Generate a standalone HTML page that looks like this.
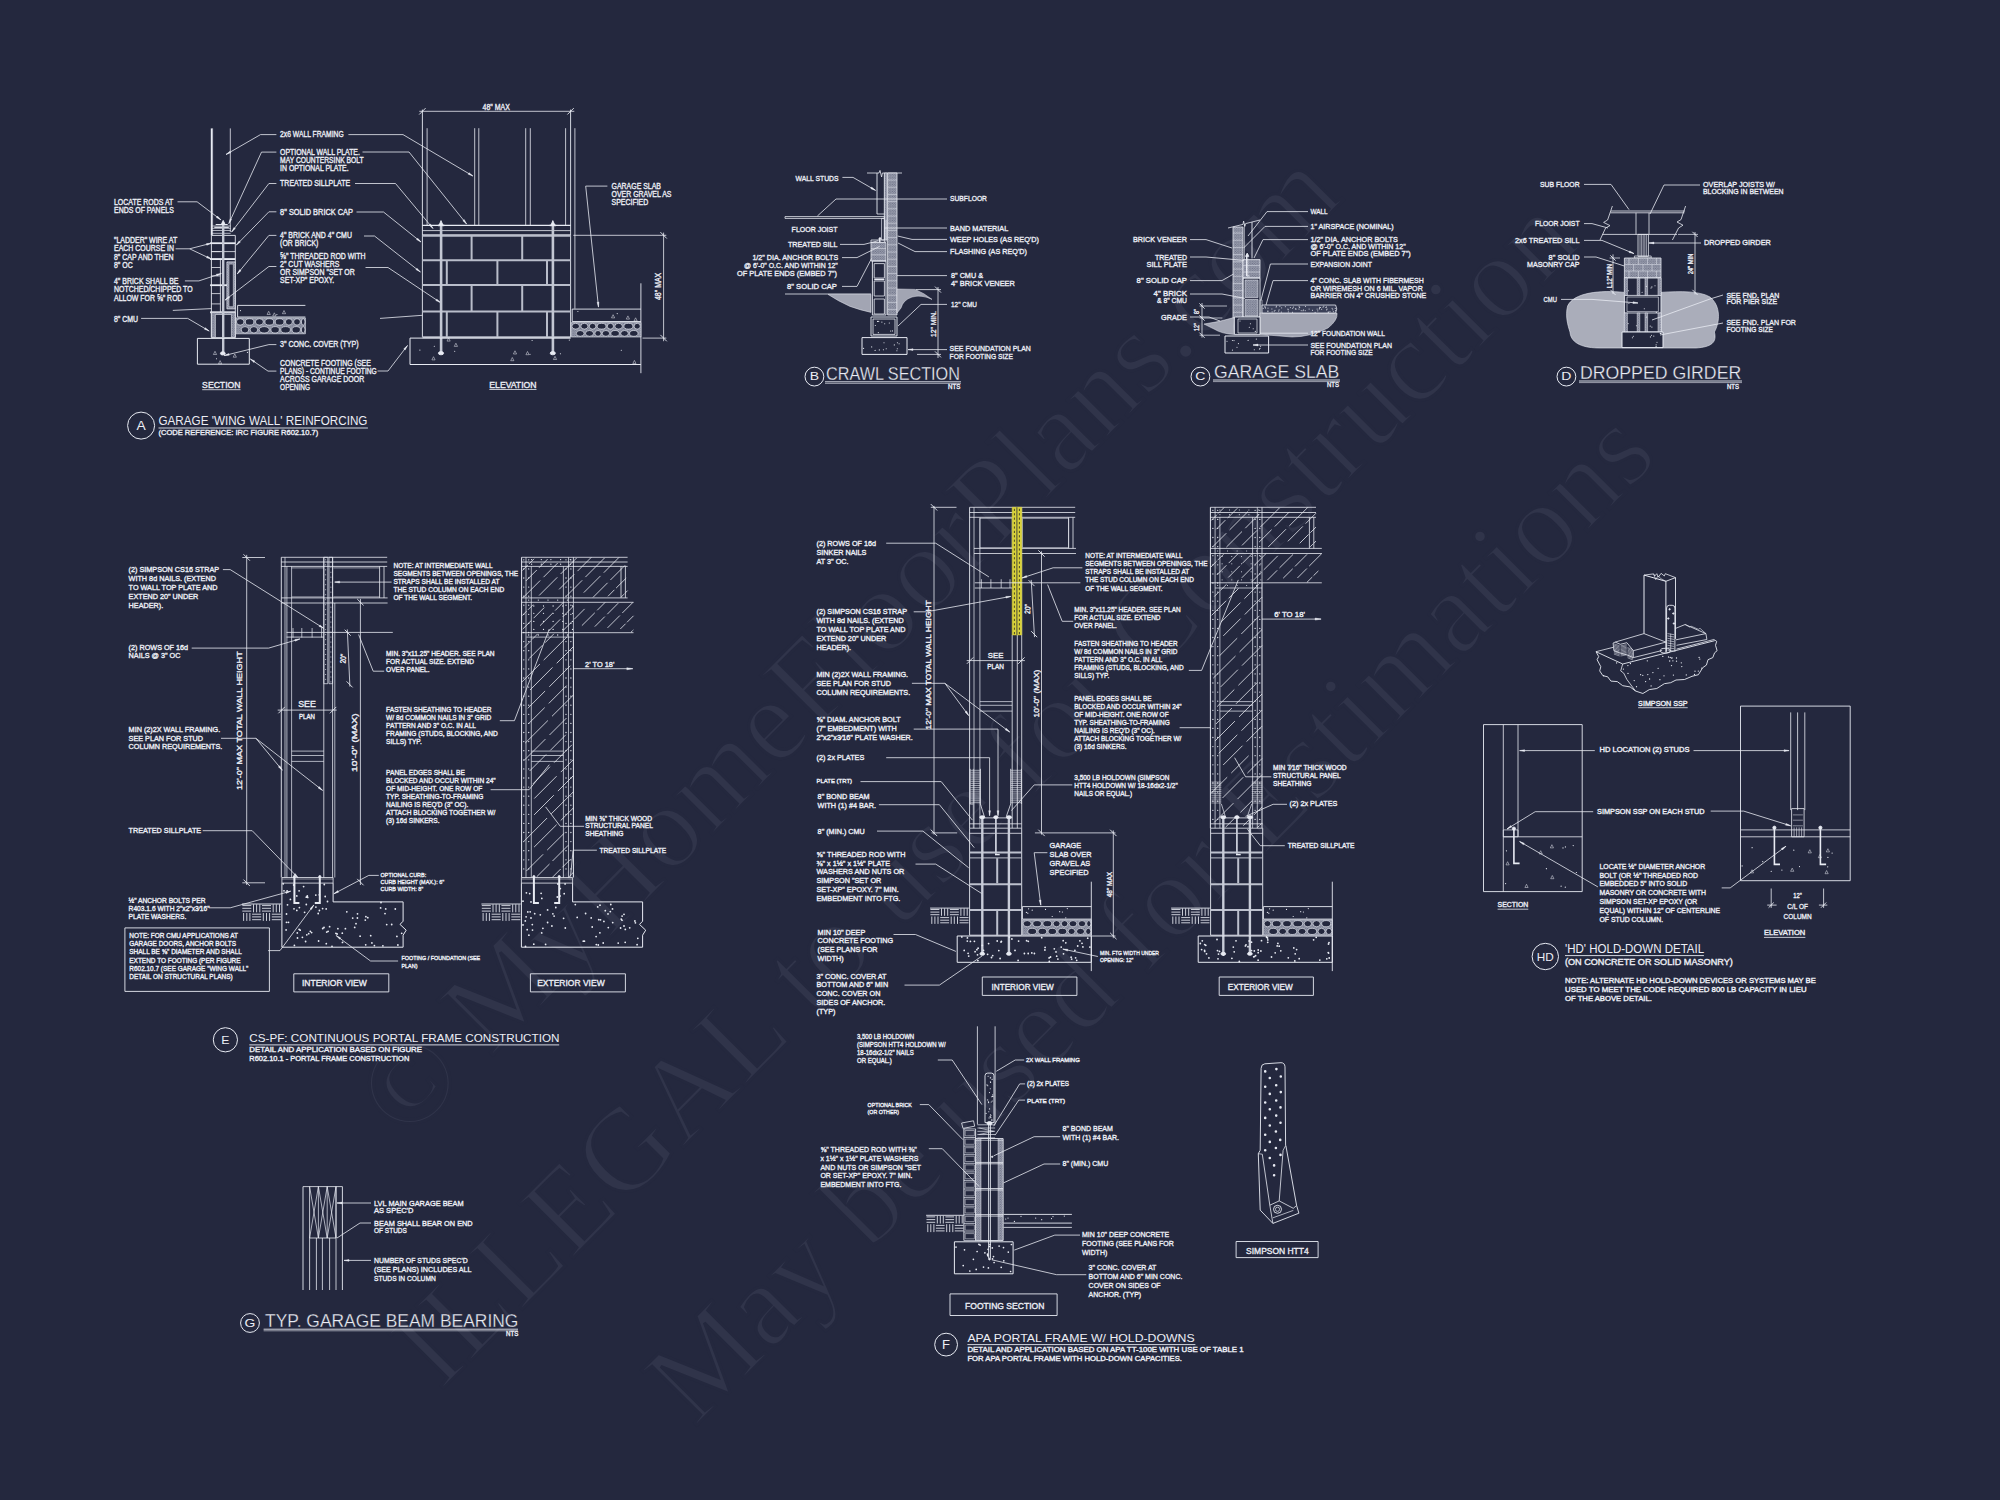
<!DOCTYPE html>
<html><head><meta charset="utf-8"><title>Structural Details</title>
<style>
html,body{margin:0;padding:0;background:#24283e;}
body{width:2000px;height:1500px;overflow:hidden;}
svg{display:block;font-family:"Liberation Sans",sans-serif;}
svg text{fill:#eceef5;stroke:#eceef5;stroke-width:0.35;}
svg text.big{stroke:#24283e;stroke-width:0.3px;}
svg text.mid{stroke:none;}
svg .wm text{font-family:"Liberation Serif",serif;fill:#30344a;stroke:#24283e;stroke-width:3px;}
</style></head><body>
<svg width="2000" height="1500" viewBox="0 0 2000 1500">
<rect width="2000" height="1500" style="fill:#24283e;stroke:none"/>
<defs>
<pattern id="stip" width="2.4" height="2.4" patternUnits="userSpaceOnUse"><rect width="2.4" height="2.4" fill="#9a9eae" stroke="none"/><circle cx="0.6" cy="0.6" r="0.5" fill="#555a72" stroke="none"/><circle cx="1.8" cy="1.8" r="0.5" fill="#555a72" stroke="none"/></pattern>
</defs>
<g fill="none" stroke="#e8ebf3" stroke-width="0.9">
<g id="wm">
<g class="wm">
<text transform="translate(405.5 1143) rotate(-45.15)" font-size="119.5">© MyHomeFloorPlans.com</text>
<text transform="translate(440.5 1391) rotate(-45.1)" font-size="118.8">ILLEGAL to use for Construction</text>
<text transform="translate(694.4 1427.5) rotate(-45.1)" font-size="119">May be used for Estimations</text>
</g>
</g>
<g id="detA">
<path d="M211.6 128.4 L211.6 235.4" stroke-width="1.6"/>
<path d="M212.6 128.4 L212.6 235.4" stroke-width="0.6"/>
<path d="M230.3 128.4 L230.3 232" stroke-width="0.8"/>
<path d="M212 226 L230.7 226" stroke-width="0.7"/>
<path d="M212 228.3 L230.7 228.3" stroke-width="0.7"/>
<path d="M212 230.5 L230.7 230.5" stroke-width="0.7"/>
<path d="M212 233.3 L230.7 233.3" stroke-width="0.7"/>
<path d="M214.3 227.3 L228.8 227.3" stroke-width="1.2"/>
<path d="M215.7 224.5 L227.7 224.5" stroke-width="1.0"/>
<path d="M211.4 235.4 L235.3 235.4 L235.3 259.1 L211.4 259.1Z"/>
<path d="M235.3 259.1 L235.3 337.5"/>
<path d="M211.4 259.1 L211.4 337.5"/>
<path d="M211.4 251.6 L220.4 251.6" stroke-width="0.8"/>
<path d="M211.4 267.5 L220.4 267.5" stroke-width="0.8"/>
<path d="M211.4 275.9 L220.4 275.9" stroke-width="0.8"/>
<path d="M211.4 293.6 L220.4 293.6" stroke-width="0.8"/>
<path d="M211.4 303.9 L220.4 303.9" stroke-width="0.8"/>
<path d="M211.4 251.6 L235.3 251.6" stroke-width="0.8"/>
<path d="M210.1 243.2 L235.3 243.2" stroke-width="1.8"/>
<path d="M210.1 259.1 L235.3 259.1" stroke-width="1.8"/>
<path d="M210.1 285.2 L235.3 285.2" stroke-width="1.8"/>
<path d="M210.1 312.3 L235.3 312.3" stroke-width="1.8"/>
<path d="M220.4 259.1 L220.4 312.3" stroke-width="0.8"/>
<path d="M226.9 261.9 L235.3 261.9 L235.3 308.9 L226.9 308.9Z" fill="url(#stip)" stroke-width="0.7"/>
<path d="M229 264.1 L233.3 264.1 L233.3 306.7 L229 306.7Z" fill="#24283e" stroke-width="0.5"/>
<path d="M211.4 312.3 L235.3 312.3 L235.3 337.5 L211.4 337.5Z" fill="url(#stip)" stroke-width="0.8"/>
<path d="M215.4 314.5 L231.4 314.5 L231.4 337.5 L215.4 337.5Z" fill="#24283e" stroke-width="0.6"/>
<path d="M223.2 222.3 L223.2 352.4" stroke-width="2.4" stroke="#c3c7d3"/>
<ellipse cx="222.8" cy="353.4" rx="2.4" ry="1.6" fill="#e8ebf3"/>
<path d="M221.3 224.5 L223.2 220.4 L225.1 224.5Z" fill="#e8ebf3"/>
<path d="M172.8 310.4 L211.4 308.6" stroke-width="0.8"/>
<path d="M305.4 305.4 L237.6 305.4 L237.6 317 L305.4 317"/>
<path d="M235.7 317.9 L305.4 317.9 L305.4 333.8 L235.7 333.8Z" fill="url(#stip)" stroke-width="0.6"/>
<ellipse cx="240.2" cy="321.9" rx="3.8" ry="3.2" fill="#24283e" stroke-width="0.7"/>
<ellipse cx="249.6" cy="321.9" rx="4.3" ry="3.2" fill="#24283e" stroke-width="0.7"/>
<ellipse cx="259.4" cy="321.9" rx="4" ry="3.2" fill="#24283e" stroke-width="0.7"/>
<ellipse cx="269.3" cy="321.9" rx="4.4" ry="3.2" fill="#24283e" stroke-width="0.7"/>
<ellipse cx="279.6" cy="321.9" rx="4.4" ry="3.2" fill="#24283e" stroke-width="0.7"/>
<ellipse cx="288.9" cy="321.9" rx="3.5" ry="3.2" fill="#24283e" stroke-width="0.7"/>
<ellipse cx="297" cy="321.9" rx="3.4" ry="3.2" fill="#24283e" stroke-width="0.7"/>
<ellipse cx="303.2" cy="321.9" rx="1.8" ry="3.2" fill="#24283e" stroke-width="0.7"/>
<ellipse cx="245" cy="329.8" rx="3.8" ry="3.2" fill="#24283e" stroke-width="0.7"/>
<ellipse cx="253.9" cy="329.8" rx="3.8" ry="3.2" fill="#24283e" stroke-width="0.7"/>
<ellipse cx="264.2" cy="329.8" rx="5.1" ry="3.2" fill="#24283e" stroke-width="0.7"/>
<ellipse cx="275.1" cy="329.8" rx="4.2" ry="3.2" fill="#24283e" stroke-width="0.7"/>
<ellipse cx="285.6" cy="329.8" rx="4.8" ry="3.2" fill="#24283e" stroke-width="0.7"/>
<ellipse cx="296.2" cy="329.8" rx="4.2" ry="3.2" fill="#24283e" stroke-width="0.7"/>
<ellipse cx="303.2" cy="329.8" rx="1.8" ry="3.2" fill="#24283e" stroke-width="0.7"/>
<path d="M268.7 311.3l1.6 3.2l-3.2 0z" stroke-width="0.5"/>
<path d="M274.3 312.8l1.6 3.2l-3.2 0z" stroke-width="0.5"/>
<path d="M284 310.5l1.6 3.2l-3.2 0z" stroke-width="0.5"/>
<path d="M276.9 314.6h.01M240.5 310.6h.01" stroke-width="1.1" stroke-linecap="round"/>
<path d="M197.4 338.4 L249.3 338.4 L249.3 364.2 L197.4 364.2Z" stroke-width="1.0"/>
<path d="M220.1 360.6l1.6 3.2l-3.2 0z" stroke-width="0.5"/>
<path d="M215 351.3l1.6 3.2l-3.2 0z" stroke-width="0.5"/>
<path d="M234.8 354l1.6 3.2l-3.2 0z" stroke-width="0.5"/>
<path d="M216.5 358.8h.01M247.4 352.4h.01" stroke-width="1.1" stroke-linecap="round"/>
<text transform="translate(221.3 387.9) scale(0.950 1)" font-size="9.1" text-anchor="middle">SECTION</text>
<path d="M202.2 389.7H240.5" stroke-width="0.8"/>
<text transform="translate(114 204.9) scale(0.830 1)" font-size="8.4">LOCATE RODS AT</text>
<text transform="translate(114 213.2) scale(0.830 1)" font-size="8.4">ENDS OF PANELS</text>
<path d="M177.5 201.8 L197.1 201.8 L221 219.9" stroke-width="0.8"/>
<path d="M221 219.9L217.5 216.1L216.4 217.6Z" fill="#e8ebf3" stroke-width="0.4"/>
<text transform="translate(114 243.2) scale(0.830 1)" font-size="8.4">"LADDER" WIRE AT</text>
<text transform="translate(114 251.3) scale(0.830 1)" font-size="8.4">EACH COURSE IN</text>
<text transform="translate(114 259.5) scale(0.830 1)" font-size="8.4">8" CAP AND THEN</text>
<text transform="translate(114 267.6) scale(0.830 1)" font-size="8.4">8" OC</text>
<path d="M175.6 248.8 L189.6 248.8" stroke-width="0.8"/>
<path d="M189.6 248.8 L211.4 243.2" stroke-width="0.8"/>
<path d="M211.4 243.2L206.4 243.6L206.8 245.3Z" fill="#e8ebf3" stroke-width="0.4"/>
<path d="M189.6 248.8 L211.4 259.1" stroke-width="0.8"/>
<path d="M211.4 259.1L207.3 256.1L206.5 257.8Z" fill="#e8ebf3" stroke-width="0.4"/>
<text transform="translate(114 283.9) scale(0.830 1)" font-size="8.4">4" BRICK SHALL BE</text>
<text transform="translate(114 292.2) scale(0.830 1)" font-size="8.4">NOTCHED/CHIPPED TO</text>
<text transform="translate(114 300.5) scale(0.830 1)" font-size="8.4">ALLOW FOR ⅝" ROD</text>
<path d="M184.9 280.9 L198.9 280.9 L221.3 273.5" stroke-width="0.8"/>
<path d="M221.3 273.5L216.3 274.2L216.9 275.9Z" fill="#e8ebf3" stroke-width="0.4"/>
<text transform="translate(114 321.6) scale(0.830 1)" font-size="8.4">8" CMU</text>
<path d="M141.1 318.4 L187.7 318.4 L209.2 331" stroke-width="0.8"/>
<path d="M209.2 331L205.3 327.7L204.4 329.2Z" fill="#e8ebf3" stroke-width="0.4"/>
<text transform="translate(280.1 137.2) scale(0.803 1)" font-size="8.4">2x6 WALL FRAMING</text>
<path d="M276.4 134.6 L260.5 134.6 L226 154.5" stroke-width="0.8"/>
<path d="M226 154.5L230.8 152.8L229.9 151.3Z" fill="#e8ebf3" stroke-width="0.4"/>
<text transform="translate(280.1 155.1) scale(0.820 1)" font-size="8.4">OPTIONAL WALL PLATE.</text>
<text transform="translate(280.1 163) scale(0.800 1)" font-size="8.4">MAY COUNTERSINK BOLT</text>
<text transform="translate(280.1 171) scale(0.822 1)" font-size="8.4">IN OPTIONAL PLATE.</text>
<path d="M276.4 152.1 L261.5 152.1 L228.8 223.6" stroke-width="0.8"/>
<path d="M228.8 223.6L231.7 219.4L230.1 218.7Z" fill="#e8ebf3" stroke-width="0.4"/>
<text transform="translate(280.1 186.3) scale(0.834 1)" font-size="8.4">TREATED SILLPLATE</text>
<path d="M276.4 183.5 L268.9 183.5 L231.6 232" stroke-width="0.8"/>
<path d="M231.6 232L235.4 228.6L233.9 227.5Z" fill="#e8ebf3" stroke-width="0.4"/>
<text transform="translate(280.1 214.8) scale(0.881 1)" font-size="8.4">8" SOLID BRICK CAP</text>
<path d="M276.4 211.8 L268.9 211.8 L236.3 245.1" stroke-width="0.8"/>
<path d="M236.3 245.1L240.4 242.1L239.1 240.9Z" fill="#e8ebf3" stroke-width="0.4"/>
<text transform="translate(280.1 238.2) scale(0.830 1)" font-size="8.4">4" BRICK AND 4" CMU</text>
<text transform="translate(280.1 246) scale(0.830 1)" font-size="8.4">(OR BRICK)</text>
<path d="M276.4 235.4 L268.9 235.4 L237.2 274" stroke-width="0.8"/>
<path d="M237.2 274L241.1 270.7L239.7 269.6Z" fill="#e8ebf3" stroke-width="0.4"/>
<text transform="translate(280.1 259.1) scale(0.830 1)" font-size="8.4">⅝" THREADED ROD WITH</text>
<text transform="translate(280.1 267) scale(0.830 1)" font-size="8.4">2" CUT WASHERS</text>
<text transform="translate(280.1 274.9) scale(0.830 1)" font-size="8.4">OR SIMPSON "SET OR</text>
<text transform="translate(280.1 282.9) scale(0.830 1)" font-size="8.4">SET-XP" EPOXY.</text>
<path d="M276.4 266.5 L268.9 266.5 L225.1 300.1" stroke-width="0.8"/>
<path d="M225.1 300.1L229.6 297.8L228.5 296.4Z" fill="#e8ebf3" stroke-width="0.4"/>
<text transform="translate(280.1 347.2) scale(0.840 1)" font-size="8.4">3" CONC. COVER (TYP)</text>
<path d="M276.4 344.6 L268.9 344.6 L224.1 355.6" stroke-width="0.8"/>
<path d="M224.1 355.6L229.2 355.3L228.8 353.5Z" fill="#e8ebf3" stroke-width="0.4"/>
<text transform="translate(280.1 366) scale(0.828 1)" font-size="8.4">CONCRETE FOOTING (SEE</text>
<text transform="translate(280.1 374.1) scale(0.791 1)" font-size="8.4">PLANS) - CONTINUE FOOTING</text>
<text transform="translate(280.1 382.1) scale(0.831 1)" font-size="8.4">ACROSS GARAGE DOOR</text>
<text transform="translate(280.1 390.1) scale(0.773 1)" font-size="8.4">OPENING</text>
<path d="M276.4 371.1 L268 371.1 L250.3 359" stroke-width="0.8"/>
<path d="M250.3 359L253.9 362.5L254.9 361Z" fill="#e8ebf3" stroke-width="0.4"/>
<path d="M348.4 134.6 L403 134.6 L472.9 176" stroke-width="0.8"/>
<path d="M472.9 176L469.1 172.7L468.1 174.2Z" fill="#e8ebf3" stroke-width="0.4"/>
<path d="M362.5 152 L409 152 L466.6 224" stroke-width="0.8"/>
<path d="M466.6 224L464.2 219.5L462.8 220.7Z" fill="#e8ebf3" stroke-width="0.4"/>
<path d="M355 183.5 L395.5 183.5 L433 228.5" stroke-width="0.8"/>
<path d="M433 228.5L430.5 224.1L429.1 225.2Z" fill="#e8ebf3" stroke-width="0.4"/>
<path d="M356.5 212 L383.5 212 L421 242" stroke-width="0.8"/>
<path d="M421 242L417.7 238.2L416.5 239.6Z" fill="#e8ebf3" stroke-width="0.4"/>
<path d="M364 236 L374.5 236 L420.4 272" stroke-width="0.8"/>
<path d="M420.4 272L417 268.2L415.9 269.6Z" fill="#e8ebf3" stroke-width="0.4"/>
<path d="M365.5 267.5 L388 267.5 L440.5 302.6" stroke-width="0.8"/>
<path d="M440.5 302.6L436.8 299.1L435.8 300.6Z" fill="#e8ebf3" stroke-width="0.4"/>
<path d="M377.5 371 L388 371 L407.5 345.5" stroke-width="0.8"/>
<path d="M407.5 345.5L403.7 348.9L405.2 350Z" fill="#e8ebf3" stroke-width="0.4"/>
<path d="M419.3 111.3 L574.3 111.3" stroke-width="0.8"/>
<path d="M419.2 114.5L425.6 108.1" stroke-width="0.9"/>
<path d="M567.4 114.5L573.8 108.1" stroke-width="0.9"/>
<text transform="translate(496.2 109.6) scale(0.830 1)" font-size="8.4" text-anchor="middle">48" MAX</text>
<path d="M422.4 109.6 L422.4 337"/>
<path d="M570.6 109.6 L570.6 337"/>
<path d="M427.1 128.2 L427.1 225.4" stroke-width="0.8"/>
<path d="M474.7 128.2 L474.7 225.4" stroke-width="0.8"/>
<path d="M478.8 128.2 L478.8 225.4" stroke-width="0.8"/>
<path d="M525.7 128.2 L525.7 225.4" stroke-width="0.8"/>
<path d="M530.3 128.2 L530.3 225.4" stroke-width="0.8"/>
<path d="M565.6 128.2 L565.6 225.4" stroke-width="0.8"/>
<path d="M574.9 128.2 L574.9 308.7" stroke-width="0.8"/>
<path d="M422.4 225.4 L570.6 225.4" stroke-width="1.3"/>
<path d="M422.4 230.6 L570.6 230.6" stroke-width="0.8"/>
<path d="M422.4 234.7 L570.6 234.7" stroke-width="0.8"/>
<path d="M422.4 235.9 L570.6 235.9" stroke-width="1.6" stroke="#b9bdca"/>
<path d="M422.4 260.3 L570.6 260.3" stroke-width="2.0" stroke="#b9bdca"/>
<path d="M422.4 285.1 L570.6 285.1" stroke-width="2.0" stroke="#b9bdca"/>
<path d="M422.4 311.4 L570.6 311.4" stroke-width="2.0" stroke="#b9bdca"/>
<path d="M422.4 337.2 L570.6 337.2" stroke-width="2.0" stroke="#b9bdca"/>
<path d="M471.6 235.9 L471.6 260.3" stroke-width="2.0" stroke="#b9bdca"/>
<path d="M522.2 235.9 L522.2 260.3" stroke-width="2.0" stroke="#b9bdca"/>
<path d="M446.8 260.3 L446.8 285.1" stroke-width="2.0" stroke="#b9bdca"/>
<path d="M497.4 260.3 L497.4 285.1" stroke-width="2.0" stroke="#b9bdca"/>
<path d="M547 260.3 L547 285.1" stroke-width="2.0" stroke="#b9bdca"/>
<path d="M471.6 285.1 L471.6 311.4" stroke-width="2.0" stroke="#b9bdca"/>
<path d="M522.2 285.1 L522.2 311.4" stroke-width="2.0" stroke="#b9bdca"/>
<path d="M446.8 311.4 L446.8 337.2" stroke-width="2.0" stroke="#b9bdca"/>
<path d="M497.4 311.4 L497.4 337.2" stroke-width="2.0" stroke="#b9bdca"/>
<path d="M547 311.4 L547 337.2" stroke-width="2.0" stroke="#b9bdca"/>
<path d="M441.1 223.3 L441.1 352.5" stroke-width="2.6" stroke="#c3c7d3"/>
<ellipse cx="441" cy="353.2" rx="2.6" ry="1.6" fill="#e8ebf3"/>
<path d="M439.1 225.4 L441 220.6 L443 225.4Z" fill="#e8ebf3"/>
<path d="M437.9 225.4 L444.3 225.4" stroke-width="1.6"/>
<path d="M552.9 223.3 L552.9 352.5" stroke-width="2.6" stroke="#c3c7d3"/>
<ellipse cx="552.8" cy="353.2" rx="2.6" ry="1.6" fill="#e8ebf3"/>
<path d="M551 225.4 L552.8 220.6 L554.9 225.4Z" fill="#e8ebf3"/>
<path d="M549.7 225.4 L556.1 225.4" stroke-width="1.6"/>
<path d="M570.6 338.1 L410 338.1 L410 364.5 L640.9 364.5" stroke-width="1.0"/>
<path d="M640.9 283.3 L640.9 373.2"/>
<path d="M515 350.8l1.6 3.2l-3.2 0z" stroke-width="0.5"/>
<path d="M527.5 351.5l1.6 3.2l-3.2 0z" stroke-width="0.5"/>
<path d="M555 356.3l1.6 3.2l-3.2 0z" stroke-width="0.5"/>
<path d="M433.5 356.7l1.6 3.2l-3.2 0z" stroke-width="0.5"/>
<path d="M634.4 360.4l1.6 3.2l-3.2 0z" stroke-width="0.5"/>
<path d="M448.6 337.9l1.6 3.2l-3.2 0z" stroke-width="0.5"/>
<path d="M455.9 343.2l1.6 3.2l-3.2 0z" stroke-width="0.5"/>
<path d="M512.3 357.5l1.6 3.2l-3.2 0z" stroke-width="0.5"/>
<path d="M621.3 350.2h.01M454.7 351.3h.01M434.3 346.3h.01M569.3 340.1h.01M560.4 353.7h.01M532.1 340.5h.01M419.9 350.1h.01M530 354.3h.01" stroke-width="1.1" stroke-linecap="round"/>
<path d="M640.9 309.1 L572.2 309.1 L572.2 321.5 L640.9 321.5"/>
<path d="M571.2 322.6 L640.9 322.6 L640.9 337 L571.2 337Z" fill="url(#stip)" stroke-width="0.6"/>
<ellipse cx="575.7" cy="326.2" rx="3.8" ry="2.9" fill="#24283e" stroke-width="0.7"/>
<ellipse cx="584.4" cy="326.2" rx="3.6" ry="2.9" fill="#24283e" stroke-width="0.7"/>
<ellipse cx="592.6" cy="326.2" rx="3.3" ry="2.9" fill="#24283e" stroke-width="0.7"/>
<ellipse cx="601.6" cy="326.2" rx="4.4" ry="2.9" fill="#24283e" stroke-width="0.7"/>
<ellipse cx="610.4" cy="326.2" rx="3.1" ry="2.9" fill="#24283e" stroke-width="0.7"/>
<ellipse cx="618.6" cy="326.2" rx="3.8" ry="2.9" fill="#24283e" stroke-width="0.7"/>
<ellipse cx="628.4" cy="326.2" rx="4.5" ry="2.9" fill="#24283e" stroke-width="0.7"/>
<ellipse cx="637.2" cy="326.2" rx="3.1" ry="2.9" fill="#24283e" stroke-width="0.7"/>
<ellipse cx="580.2" cy="333.4" rx="3.9" ry="2.9" fill="#24283e" stroke-width="0.7"/>
<ellipse cx="589.5" cy="333.4" rx="4" ry="2.9" fill="#24283e" stroke-width="0.7"/>
<ellipse cx="598" cy="333.4" rx="3.1" ry="2.9" fill="#24283e" stroke-width="0.7"/>
<ellipse cx="605.9" cy="333.4" rx="3.7" ry="2.9" fill="#24283e" stroke-width="0.7"/>
<ellipse cx="615.1" cy="333.4" rx="4.2" ry="2.9" fill="#24283e" stroke-width="0.7"/>
<ellipse cx="624.5" cy="333.4" rx="3.8" ry="2.9" fill="#24283e" stroke-width="0.7"/>
<ellipse cx="633.8" cy="333.4" rx="4.2" ry="2.9" fill="#24283e" stroke-width="0.7"/>
<path d="M635.6 317.8l1.6 3.2l-3.2 0z" stroke-width="0.5"/>
<path d="M627.9 315.9l1.6 3.2l-3.2 0z" stroke-width="0.5"/>
<path d="M613.1 314.7l1.6 3.2l-3.2 0z" stroke-width="0.5"/>
<path d="M577.9 311.5h.01M617.2 313.6h.01" stroke-width="1.1" stroke-linecap="round"/>
<path d="M663.6 232.6 L663.6 341.2" stroke-width="0.8"/>
<path d="M573.3 235.3 L666.3 235.3" stroke-width="0.8"/>
<path d="M642.5 338.1 L666.3 338.1" stroke-width="0.8"/>
<path d="M660.4 232.1L666.8 238.5" stroke-width="0.9"/>
<path d="M660.4 334.9L666.8 341.3" stroke-width="0.9"/>
<text transform="translate(661.1 286.4) rotate(-90) scale(0.830 1)" font-size="8.4" text-anchor="middle">48" MAX</text>
<text transform="translate(611.5 188.8) scale(0.830 1)" font-size="8.4">GARAGE SLAB</text>
<text transform="translate(611.5 196.9) scale(0.830 1)" font-size="8.4">OVER GRAVEL AS</text>
<text transform="translate(611.5 204.9) scale(0.830 1)" font-size="8.4">SPECIFIED</text>
<path d="M607.4 186.1 L585.7 186.1 L598.5 307.1" stroke-width="0.8"/>
<path d="M598.5 307.1L598.9 302L597.1 302.2Z" fill="#e8ebf3" stroke-width="0.4"/>
<text transform="translate(512.9 387.7) scale(0.950 1)" font-size="9.1" text-anchor="middle">ELEVATION</text>
<path d="M489.4 389.5H536.5" stroke-width="0.8"/>
<path d="M380 318.4 L422.4 315.3" stroke-width="0.8"/>
<circle cx="141.1" cy="425.6" r="13.5" stroke-width="1.0"/>
<text transform="translate(141.1 430.1) scale(1.100 1)" font-size="12.6" text-anchor="middle" class="mid">A</text>
<text transform="translate(158.5 425) scale(0.974 1)" font-size="12" class="mid">GARAGE 'WING WALL' REINFORCING</text>
<path d="M158.5 428 L367.9 428"/>
<text transform="translate(158.5 434.6) scale(0.967 1)" font-size="7.8">(CODE REFERENCE: IRC FIGURE R602.10.7)</text>
</g>
<g id="detB">
<path d="M867 173 L879 173 L880 170.4 L881.6 177 L882.4 173 L902 173" stroke-width="0.8"/>
<path d="M877 173 L877 214"/>
<path d="M884.4 173 L884.4 240"/>
<path d="M887.6 173 L897 173 L897 315 L887.6 315Z" fill="url(#stip)" stroke-width="0.8"/>
<path d="M887.6 180 L897 180" stroke-width="0.6" stroke="#d8dbe5"/>
<path d="M887.6 187.2 L897 187.2" stroke-width="0.6" stroke="#d8dbe5"/>
<path d="M887.6 194.4 L897 194.4" stroke-width="0.6" stroke="#d8dbe5"/>
<path d="M887.6 201.6 L897 201.6" stroke-width="0.6" stroke="#d8dbe5"/>
<path d="M887.6 208.8 L897 208.8" stroke-width="0.6" stroke="#d8dbe5"/>
<path d="M887.6 216 L897 216" stroke-width="0.6" stroke="#d8dbe5"/>
<path d="M887.6 223.2 L897 223.2" stroke-width="0.6" stroke="#d8dbe5"/>
<path d="M887.6 230.4 L897 230.4" stroke-width="0.6" stroke="#d8dbe5"/>
<path d="M887.6 237.6 L897 237.6" stroke-width="0.6" stroke="#d8dbe5"/>
<path d="M887.6 244.8 L897 244.8" stroke-width="0.6" stroke="#d8dbe5"/>
<path d="M887.6 252 L897 252" stroke-width="0.6" stroke="#d8dbe5"/>
<path d="M887.6 259.2 L897 259.2" stroke-width="0.6" stroke="#d8dbe5"/>
<path d="M887.6 266.4 L897 266.4" stroke-width="0.6" stroke="#d8dbe5"/>
<path d="M887.6 273.6 L897 273.6" stroke-width="0.6" stroke="#d8dbe5"/>
<path d="M887.6 280.8 L897 280.8" stroke-width="0.6" stroke="#d8dbe5"/>
<path d="M887.6 288 L897 288" stroke-width="0.6" stroke="#d8dbe5"/>
<path d="M887.6 295.2 L897 295.2" stroke-width="0.6" stroke="#d8dbe5"/>
<path d="M887.6 302.4 L897 302.4" stroke-width="0.6" stroke="#d8dbe5"/>
<path d="M887.6 309.6 L897 309.6" stroke-width="0.6" stroke="#d8dbe5"/>
<path d="M884.4 173 L887.2 173 L887.2 240 L884.4 240Z" fill="url(#stip)" stroke-width="0.6"/>
<path d="M785 216.6 L884.4 216.6 L884.4 218.4 L785 218.4Z" stroke-width="0.8"/>
<path d="M877 214 L884.4 214" stroke-width="0.8"/>
<path d="M881.6 218.4 L884.4 218.4 L884.4 240 L881.6 240Z" stroke-width="0.7"/>
<path d="M886 220 L886 242" stroke-width="0.7"/>
<path d="M871 240 L884.4 240 L884.4 242.4 L871 242.4Z" stroke-width="0.8"/>
<path d="M879.4 238 L879.4 258" stroke-width="1.2"/>
<path d="M880.6 238 L880.6 258" stroke-width="0.6"/>
<circle cx="880" cy="238.4" r="0.8" fill="#e8ebf3" stroke-width="0.8"/>
<path d="M871 242.4 L886 242.4 L886 261 L871 261Z" fill="url(#stip)" stroke-width="0.8"/>
<path d="M871 248.6 L886 248.6" stroke-width="0.5"/>
<path d="M871 254.8 L886 254.8" stroke-width="0.5"/>
<path d="M872.4 261 L886 261 L886 315 L872.4 315Z"/>
<path d="M874.2 263.6 L884.4 263.6 L884.4 278 L874.2 278Z" stroke-width="0.8"/>
<path d="M874.2 281 L884.4 281 L884.4 296 L874.2 296Z" stroke-width="0.8"/>
<path d="M874.2 299 L884.4 299 L884.4 314 L874.2 314Z" stroke-width="0.8"/>
<path d="M874.2 279.4 L884.4 279.4" stroke-width="1.4"/>
<path d="M871 317 L897 317 L897 336 L871 336Z"/>
<path d="M873 319 L895 319 L895 334.4 L873 334.4Z" stroke-width="0.8"/>
<path d="M878.7 321.4h.01M881.9 322.1h.01M875.3 325.5h.01M892.4 330.9h.01M889.3 323h.01M884.7 323.8h.01M877.5 321.4h.01M878.3 332.6h.01M890.6 331h.01" stroke-width="1.1" stroke-linecap="round"/>
<path d="M862 337.6 L907 337.6 L907 354.4 L862 354.4Z" stroke-width="1.0"/>
<path d="M896.9 350.7h.01M884 342.7h.01M863.6 348.4h.01M883.4 349.8h.01M879.3 349.9h.01M875.1 350.4h.01M894.3 344.9h.01M886.2 348.7h.01M871.7 346.9h.01M897.4 342.8h.01M897.3 348.7h.01M899.1 343.8h.01" stroke-width="1.1" stroke-linecap="round"/>
<path d="M785 294 L871 294" stroke-width="0.8"/>
<path d="M828 294.4L871 294.4L871 312.4Q860 310 850 306.4Q838 301 828 294.4Z" fill="#a2a5b3" stroke-width="0.5"/>
<path d="M897 289L915 289.4Q924 293 932 299.4Q922 294.4 912 297Q903 300 901 308L897 313Z" fill="#a2a5b3" stroke-width="0.5"/>
<path d="M938 287 L938 358" stroke-width="0.8"/>
<path d="M916 289.6 L941 289.6" stroke-width="0.8"/>
<path d="M917 354.4 L941 354.4" stroke-width="0.8"/>
<path d="M935 286.6L941 292.6" stroke-width="0.9"/>
<path d="M935 351.4L941 357.4" stroke-width="0.9"/>
<text transform="translate(936.4 324) rotate(-90) scale(0.830 1)" font-size="8.1" text-anchor="middle">12" MIN.</text>
<text transform="translate(795.6 180.6) scale(0.840 1)" font-size="8.1">WALL STUDS</text>
<path d="M842.4 177.4 L853 177.4 L875.6 190.4" stroke-width="0.8"/>
<path d="M875.6 190.4L871.7 187.1L870.8 188.7Z" fill="#e8ebf3" stroke-width="0.4"/>
<text transform="translate(791.6 231.6) scale(0.866 1)" font-size="8.1">FLOOR JOIST</text>
<text transform="translate(788 247.4) scale(0.884 1)" font-size="8.1">TREATED SILL</text>
<path d="M840 244.4 L864 244.4 L878 240.8" stroke-width="0.8"/>
<text transform="translate(752.4 260.4) scale(0.884 1)" font-size="8.1">1/2" DIA. ANCHOR BOLTS</text>
<text transform="translate(744 268) scale(0.858 1)" font-size="8.1">@ 6'-0" O.C. AND WITHIN 12"</text>
<text transform="translate(737 275.6) scale(0.914 1)" font-size="8.1">OF PLATE ENDS (EMBED 7")</text>
<path d="M842 257.6 L857 257.6 L879.6 246.4" stroke-width="0.8"/>
<text transform="translate(787 289) scale(0.946 1)" font-size="8.1">8" SOLID CAP</text>
<path d="M842 286.4 L857 286.4 L871.6 258.4" stroke-width="0.8"/>
<text transform="translate(950 201.4) scale(0.830 1)" font-size="8.1">SUBFLOOR</text>
<path d="M947 199 L836 199 L817.4 216" stroke-width="0.8"/>
<text transform="translate(950 230.6) scale(0.903 1)" font-size="8.1">BAND MATERIAL</text>
<path d="M947 228 L884.4 228" stroke-width="0.8"/>
<text transform="translate(950 241.6) scale(0.898 1)" font-size="8.1">WEEP HOLES (AS REQ'D)</text>
<path d="M947 239.4 L912 239.4 L897.6 236" stroke-width="0.8"/>
<text transform="translate(950 253.6) scale(0.894 1)" font-size="8.1">FLASHING (AS REQ'D)</text>
<path d="M947 251.6 L915 251.6 L898 243" stroke-width="0.8"/>
<text transform="translate(951 278) scale(0.896 1)" font-size="8.1">8" CMU &amp;</text>
<text transform="translate(951 286.4) scale(0.915 1)" font-size="8.1">4" BRICK VENEER</text>
<path d="M947 275.6 L897 275.6" stroke-width="0.8"/>
<text transform="translate(951 307) scale(0.798 1)" font-size="8.1">12" CMU</text>
<path d="M947 304.4 L921 304.4 L898 326" stroke-width="0.8"/>
<text transform="translate(949.6 350.6) scale(0.858 1)" font-size="8.1">SEE FOUNDATION PLAN</text>
<text transform="translate(949.6 359) scale(0.829 1)" font-size="8.1">FOR FOOTING SIZE</text>
<path d="M947 349.6 L908 349.6" stroke-width="0.8"/>
<path d="M908 349.6L913 350.5L913 348.7Z" fill="#e8ebf3" stroke-width="0.4"/>
<circle cx="814.4" cy="376.6" r="9.4" stroke-width="1.0"/>
<text transform="translate(814.4 380.2) scale(1.250 1)" font-size="11.2" text-anchor="middle" class="mid">B</text>
<text transform="translate(826 380) scale(0.854 1)" font-size="19" class="big">CRAWL SECTION</text>
<path d="M825 381.8 L961 381.8"/>
<path d="M825 383.4 L961 383.4" stroke-width="0.6"/>
<text transform="translate(948 389.4) scale(0.965 1)" font-size="6.4">NTS</text>
</g>
<g id="detC">
<path d="M1228 228 L1243 224.4 L1243.6 221 L1244.8 226.4 L1245.6 223.6 L1260 220" stroke-width="0.8"/>
<path d="M1233 227 L1243 227 L1243 318 L1233 318Z" fill="url(#stip)" stroke-width="0.8"/>
<path d="M1233 233 L1243 233" stroke-width="0.6" stroke="#d8dbe5"/>
<path d="M1233 240.2 L1243 240.2" stroke-width="0.6" stroke="#d8dbe5"/>
<path d="M1233 247.4 L1243 247.4" stroke-width="0.6" stroke="#d8dbe5"/>
<path d="M1233 254.6 L1243 254.6" stroke-width="0.6" stroke="#d8dbe5"/>
<path d="M1233 261.8 L1243 261.8" stroke-width="0.6" stroke="#d8dbe5"/>
<path d="M1233 269 L1243 269" stroke-width="0.6" stroke="#d8dbe5"/>
<path d="M1233 276.2 L1243 276.2" stroke-width="0.6" stroke="#d8dbe5"/>
<path d="M1233 283.4 L1243 283.4" stroke-width="0.6" stroke="#d8dbe5"/>
<path d="M1233 290.6 L1243 290.6" stroke-width="0.6" stroke="#d8dbe5"/>
<path d="M1233 297.8 L1243 297.8" stroke-width="0.6" stroke="#d8dbe5"/>
<path d="M1233 305 L1243 305" stroke-width="0.6" stroke="#d8dbe5"/>
<path d="M1233 312.2 L1243 312.2" stroke-width="0.6" stroke="#d8dbe5"/>
<path d="M1252 222 L1252 258.4"/>
<path d="M1244.4 224 L1244.4 259.6" stroke-width="0.6"/>
<path d="M1243 259.6 L1260 259.6 L1260 278 L1243 278Z" fill="url(#stip)" stroke-width="0.8"/>
<path d="M1243 265.6 L1260 265.6" stroke-width="0.6" stroke="#d8dbe5"/>
<path d="M1243 272 L1260 272" stroke-width="0.6" stroke="#d8dbe5"/>
<path d="M1246.6 254.4 L1246.6 276" stroke-width="1.3"/>
<path d="M1247.8 254.4 L1247.8 276" stroke-width="0.6"/>
<path d="M1246.6 276 L1249.6 276" stroke-width="1.0"/>
<path d="M1245.6 256.4 L1247.2 253 L1248.8 256.4Z" fill="#e8ebf3" stroke-width="0.8"/>
<path d="M1243 278 L1260 278 L1260 317 L1243 317Z"/>
<path d="M1245 280 L1258 280 L1258 297.6 L1245 297.6Z" fill="url(#stip)" stroke-width="0.6"/>
<path d="M1245 299.4 L1258 299.4 L1258 316 L1245 316Z" fill="url(#stip)" stroke-width="0.6"/>
<path d="M1260 300 L1262 300 L1262 317 L1260 317Z" stroke-width="0.6"/>
<path d="M1260 313L1337 313Q1338 320 1328 328Q1310 337 1292 337L1260 334.4Z" fill="#a2a5b3" stroke-width="0.5"/>
<path d="M1262 305L1335.6 305Q1338 309 1335.6 313L1262 313Z" fill="#3a3f57" stroke-width="0.8"/>
<path d="M1275 310.4h.01M1309.1 309.1h.01M1278.7 311.1h.01M1321.7 309.3h.01M1299.7 307.5h.01M1263.2 308.4h.01M1305.5 306.4h.01M1320.6 307.5h.01M1279.9 306.3h.01M1335.4 310.7h.01M1326.5 309.9h.01M1265.5 308.1h.01M1299.1 306.7h.01M1332.1 308.4h.01M1274.2 311.2h.01M1272.1 311.9h.01M1295.9 309.5h.01M1287.9 309.1h.01M1276.6 306.2h.01M1325.9 307.5h.01M1319.6 307.3h.01M1333.3 311.7h.01M1317.8 310.9h.01M1305.2 310.7h.01M1271.9 309h.01M1323 307.3h.01M1330 311.7h.01M1292.7 308.3h.01M1295.8 308.5h.01M1335.2 308.5h.01M1264.9 306.6h.01M1315.1 312.4h.01M1299 309.1h.01M1303 310.8h.01M1279.1 309.9h.01M1303.4 310h.01M1276.1 307.1h.01M1288.3 311.9h.01M1288.2 309.8h.01M1285.3 306.7h.01M1267.8 311.2h.01M1319.4 308.4h.01M1312.6 310.3h.01M1328.2 312.1h.01M1292.5 312.3h.01M1332.8 309.8h.01M1327.1 309.1h.01M1290.3 307.6h.01M1326.6 307h.01M1268 311.2h.01M1319.2 309.1h.01M1323.8 306.3h.01M1281.7 307.9h.01M1293.5 307.1h.01M1268 308.2h.01M1328.3 312.3h.01M1317.1 309.1h.01M1281.3 312.1h.01M1301.2 310.7h.01M1265.1 307.4h.01" stroke-width="1" stroke-linecap="round"/>
<path d="M1204 324Q1220 322 1233.6 317.6L1234.4 334.4Q1222 334 1214 329Z" fill="#a2a5b3" stroke-width="0.5"/>
<path d="M1234.4 317 L1260 317 L1260 334.4 L1234.4 334.4Z" fill="#24283e"/>
<path d="M1238 319 L1257 319 L1257 333 L1238 333Z" stroke-width="0.7"/>
<path d="M1255.3 331.4h.01M1240 321h.01M1253.2 328.8h.01M1250.4 323.7h.01M1249.3 327.3h.01" stroke-width="1.1" stroke-linecap="round"/>
<path d="M1225 336 L1268.6 336 L1268.6 353 L1225 353Z" stroke-width="1.0"/>
<path d="M1237 347.3h.01M1254.3 349.8h.01M1234 340.6h.01M1232.4 340.5h.01M1256.3 339.1h.01M1248.1 340.4h.01M1238.4 343.6h.01M1260.6 346.2h.01M1227 341.3h.01M1232.4 350.1h.01M1259.4 349.1h.01M1260.1 348.2h.01" stroke-width="1.1" stroke-linecap="round"/>
<path d="M1202 303 L1202 337.6" stroke-width="0.8"/>
<path d="M1199.6 306 L1227 306" stroke-width="0.7"/>
<path d="M1199.6 318 L1222.4 318" stroke-width="0.7"/>
<path d="M1199.6 335.2 L1220 335.2" stroke-width="0.7"/>
<path d="M1199.4 303.4L1204.6 308.6" stroke-width="0.9"/>
<path d="M1199.4 315.4L1204.6 320.6" stroke-width="0.9"/>
<path d="M1199.4 332.6L1204.6 337.8" stroke-width="0.9"/>
<text transform="translate(1199.4 311.6) rotate(-90) scale(0.830 1)" font-size="6.4" text-anchor="middle">8"</text>
<text transform="translate(1199.4 327) rotate(-90) scale(0.830 1)" font-size="6.4" text-anchor="middle">12"</text>
<text transform="translate(1133 242.4) scale(0.895 1)" font-size="8.1">BRICK VENEER</text>
<path d="M1190 239.6 L1206 239.6 L1232 248" stroke-width="0.8"/>
<text transform="translate(1155 259.6) scale(0.860 1)" font-size="8.1">TREATED</text>
<text transform="translate(1146.4 266.6) scale(0.930 1)" font-size="8.1">SILL PLATE</text>
<path d="M1190 257 L1206 257 L1244 260.4" stroke-width="0.8"/>
<text transform="translate(1136.6 283.4) scale(0.954 1)" font-size="8.1">8" SOLID CAP</text>
<path d="M1190 280.6 L1222 280.6 L1233.6 274" stroke-width="0.8"/>
<text transform="translate(1153.6 296) scale(0.971 1)" font-size="8.1">4" BRICK</text>
<text transform="translate(1157 303.4) scale(0.840 1)" font-size="8.1">&amp; 8" CMU</text>
<path d="M1190 294 L1222 294 L1245 298.4" stroke-width="0.8"/>
<text transform="translate(1161 320) scale(0.903 1)" font-size="8.1">GRADE</text>
<path d="M1190 317 L1209 317 L1220 321" stroke-width="0.8"/>
<text transform="translate(1310.4 214.4) scale(0.790 1)" font-size="8.1">WALL</text>
<path d="M1308 211.6 L1267 211.6 L1248 236" stroke-width="0.8"/>
<text transform="translate(1310.4 229) scale(0.888 1)" font-size="8.1">1" AIRSPACE (NOMINAL)</text>
<path d="M1308 226.4 L1265 226.4 L1243.6 248" stroke-width="0.8"/>
<text transform="translate(1310.4 242) scale(0.901 1)" font-size="8.1">1/2" DIA. ANCHOR BOLTS</text>
<text transform="translate(1310.4 249) scale(0.872 1)" font-size="8.1">@ 6'-0" O.C. AND WITHIN 12"</text>
<text transform="translate(1310.4 256) scale(0.920 1)" font-size="8.1">OF PLATE ENDS (EMBED 7")</text>
<path d="M1308 239.6 L1263 239.6 L1254 258" stroke-width="0.8"/>
<text transform="translate(1310.4 266.6) scale(0.852 1)" font-size="8.1">EXPANSION JOINT</text>
<path d="M1308 264 L1270.4 264 L1261 300" stroke-width="0.8"/>
<text transform="translate(1310.4 283.4) scale(0.866 1)" font-size="8.1">4" CONC. SLAB WITH FIBERMESH</text>
<text transform="translate(1310.4 290.6) scale(0.879 1)" font-size="8.1">OR WIREMESH ON 6 MIL. VAPOR</text>
<text transform="translate(1310.4 298) scale(0.876 1)" font-size="8.1">BARRIER ON 4" CRUSHED STONE</text>
<path d="M1308 280.6 L1273 280.6 L1266 305" stroke-width="0.8"/>
<text transform="translate(1310.4 336) scale(0.819 1)" font-size="8.1">12" FOUNDATION WALL</text>
<path d="M1308 333.2 L1260 333.2" stroke-width="0.8"/>
<text transform="translate(1310.4 348) scale(0.861 1)" font-size="8.1">SEE FOUNDATION PLAN</text>
<text transform="translate(1310.4 355) scale(0.818 1)" font-size="8.1">FOR FOOTING SIZE</text>
<path d="M1308 345 L1253 345" stroke-width="0.8"/>
<path d="M1253 345L1258 345.9L1258 344.1Z" fill="#e8ebf3" stroke-width="0.4"/>
<circle cx="1200.4" cy="376.6" r="9.4" stroke-width="1.0"/>
<text transform="translate(1200.4 380.2) scale(1.250 1)" font-size="11.2" text-anchor="middle" class="mid">C</text>
<text transform="translate(1214 378) scale(0.968 1)" font-size="18.2" class="big">GARAGE SLAB</text>
<path d="M1213 380 L1340 380"/>
<path d="M1213 381.6 L1340 381.6" stroke-width="0.6"/>
<text transform="translate(1327 387.4) scale(0.934 1)" font-size="6.4">NTS</text>
</g>
<g id="detD">
<path d="M1624.4 292.4C1600 290 1574 292.4 1567.6 306C1565 316 1568 326 1570 332C1571 344 1584 348 1600 348L1696 348C1712 347 1717 342 1714.4 332C1720 322 1721 306 1710 297C1700 291 1680 291 1661 292.4Z" fill="#aaadba" stroke-width="0.6"/>
<path d="M1611 211 L1685 211" stroke-width="0.8"/>
<path d="M1610.4 212.8 L1684.4 212.8" stroke-width="0.8"/>
<path d="M1602.4 234.4 L1677 234.4" stroke-width="0.8"/>
<path d="M1612.4 206 L1607.6 220 L1603.6 222.4 L1610 225.6 L1605.6 228 L1600 240" stroke-width="0.8"/>
<path d="M1685.6 206 L1681 219.6 L1677 222 L1683 225.2 L1678.6 228 L1672.4 240" stroke-width="0.8"/>
<path d="M1636 212.8 L1636 234.4" stroke-width="0.8"/>
<path d="M1649 212.8 L1649 234.4" stroke-width="0.8"/>
<path d="M1638 234.4 L1648.4 234.4 L1648.4 256.4 L1638 256.4Z" stroke-width="0.8"/>
<path d="M1640 234.4 L1640 256.4" stroke-width="0.6"/>
<path d="M1641.6 234.4 L1641.6 256.4" stroke-width="0.6"/>
<path d="M1643.2 234.4 L1643.2 256.4" stroke-width="0.6"/>
<path d="M1644.8 234.4 L1644.8 256.4" stroke-width="0.6"/>
<path d="M1646.4 234.4 L1646.4 256.4" stroke-width="0.6"/>
<path d="M1634.4 256 L1651.2 256 L1651.2 258 L1634.4 258Z" stroke-width="0.7"/>
<path d="M1624.4 258 L1661 258 L1661 278 L1624.4 278Z" fill="url(#stip)" stroke-width="0.8"/>
<path d="M1624.4 264.4 L1661 264.4" stroke-width="0.6" stroke="#d8dbe5"/>
<path d="M1624.4 271 L1661 271" stroke-width="0.6" stroke="#d8dbe5"/>
<path d="M1633.6 264.4 L1633.6 271" stroke-width="0.6" stroke="#d8dbe5"/>
<path d="M1643 264.4 L1643 271" stroke-width="0.6" stroke="#d8dbe5"/>
<path d="M1652 264.4 L1652 271" stroke-width="0.6" stroke="#d8dbe5"/>
<path d="M1629 258 L1629 264.4" stroke-width="0.6" stroke="#d8dbe5"/>
<path d="M1629 271 L1629 278" stroke-width="0.6" stroke="#d8dbe5"/>
<path d="M1638.4 258 L1638.4 264.4" stroke-width="0.6" stroke="#d8dbe5"/>
<path d="M1638.4 271 L1638.4 278" stroke-width="0.6" stroke="#d8dbe5"/>
<path d="M1647.6 258 L1647.6 264.4" stroke-width="0.6" stroke="#d8dbe5"/>
<path d="M1647.6 271 L1647.6 278" stroke-width="0.6" stroke="#d8dbe5"/>
<path d="M1656.4 258 L1656.4 264.4" stroke-width="0.6" stroke="#d8dbe5"/>
<path d="M1656.4 271 L1656.4 278" stroke-width="0.6" stroke="#d8dbe5"/>
<path d="M1624.4 278 L1661 278 L1661 332 L1624.4 332Z" fill="#24283e"/>
<path d="M1624.4 295.4 L1661 295.4" stroke-width="0.8"/>
<path d="M1624.4 313 L1661 313" stroke-width="0.8"/>
<path d="M1624.4 278 L1627.4 278 L1627.4 295.4 L1624.4 295.4Z" fill="url(#stip)" stroke-width="0.5"/>
<path d="M1637.2 278 L1639.8 278 L1639.8 295.4 L1637.2 295.4Z" fill="url(#stip)" stroke-width="0.5"/>
<path d="M1645 278 L1647.6 278 L1647.6 295.4 L1645 295.4Z" fill="url(#stip)" stroke-width="0.5"/>
<path d="M1658 278 L1661 278 L1661 295.4 L1658 295.4Z" fill="url(#stip)" stroke-width="0.5"/>
<path d="M1624.4 313 L1627.4 313 L1627.4 332 L1624.4 332Z" fill="url(#stip)" stroke-width="0.5"/>
<path d="M1637.2 313 L1639.8 313 L1639.8 332 L1637.2 332Z" fill="url(#stip)" stroke-width="0.5"/>
<path d="M1645 313 L1647.6 313 L1647.6 332 L1645 332Z" fill="url(#stip)" stroke-width="0.5"/>
<path d="M1658 313 L1661 313 L1661 332 L1658 332Z" fill="url(#stip)" stroke-width="0.5"/>
<path d="M1627 297 L1658.4 297 L1658.4 311.6 L1627 311.6Z" stroke-width="0.6"/>
<path d="M1646.7 317.1h.01M1651.9 327.1h.01M1650.2 326.1h.01M1628.9 303.3h.01M1656.3 312.4h.01M1655 285.7h.01M1642.1 292.3h.01M1644.3 308.7h.01M1628.4 290.8h.01M1636.4 325.8h.01M1651 288h.01M1651.9 286.9h.01M1646.5 286.3h.01M1628.1 323.6h.01" stroke-width="1.1" stroke-linecap="round"/>
<path d="M1622 332 L1663 332 L1663 347.6 L1622 347.6Z" fill="#24283e" stroke-width="1.0"/>
<path d="M1660.3 333.4h.01M1651.5 335.3h.01M1661.1 333.4h.01M1657 342.2h.01M1656.1 346.4h.01M1632.4 337.7h.01M1650.4 336.9h.01M1633.3 336.2h.01M1656.1 344.7h.01M1653.8 336.1h.01" stroke-width="1.1" stroke-linecap="round"/>
<path d="M1613 254.4 L1613 294" stroke-width="0.8"/>
<path d="M1610.4 255.4L1615.6 260.6" stroke-width="0.9"/>
<path d="M1610.4 289.8L1615.6 295" stroke-width="0.9"/>
<path d="M1609.6 258 L1620 258" stroke-width="0.7"/>
<text transform="translate(1611.6 276) rotate(-90) scale(0.830 1)" font-size="7" text-anchor="middle">L12" MIN</text>
<path d="M1695 232 L1695 294.4" stroke-width="0.8"/>
<path d="M1692.4 231.8L1697.6 237" stroke-width="0.9"/>
<path d="M1692.4 289.8L1697.6 295" stroke-width="0.9"/>
<path d="M1678 234.4 L1698 234.4" stroke-width="0.7"/>
<text transform="translate(1692.8 264) rotate(-90) scale(0.830 1)" font-size="7" text-anchor="middle">24" MIN</text>
<text transform="translate(1540 187) scale(0.846 1)" font-size="8.1">SUB FLOOR</text>
<path d="M1584 184.4 L1611 184.4 L1629 209.6" stroke-width="0.8"/>
<text transform="translate(1535 226) scale(0.840 1)" font-size="8.1">FLOOR JOIST</text>
<path d="M1584 223.6 L1592 223.6 L1608 228" stroke-width="0.8"/>
<text transform="translate(1515 243) scale(0.906 1)" font-size="8.1">2x6 TREATED SILL</text>
<path d="M1584 240.4 L1602 240.4 L1634 253.6" stroke-width="0.8"/>
<path d="M1634 253.6L1629.7 250.9L1629 252.5Z" fill="#e8ebf3" stroke-width="0.4"/>
<text transform="translate(1548.6 260) scale(0.913 1)" font-size="8.1">8" SOLID</text>
<text transform="translate(1527 267) scale(0.883 1)" font-size="8.1">MASONRY CAP</text>
<path d="M1584 257 L1596 257 L1624.4 266" stroke-width="0.8"/>
<text transform="translate(1543.6 302) scale(0.726 1)" font-size="8.1">CMU</text>
<path d="M1561 299.4 L1592 299.4 L1638 303" stroke-width="0.8"/>
<path d="M1638 303L1633.1 301.7L1632.9 303.5Z" fill="#e8ebf3" stroke-width="0.4"/>
<text transform="translate(1703 187) scale(0.890 1)" font-size="8.1">OVERLAP JOISTS W/</text>
<text transform="translate(1703 194.4) scale(0.853 1)" font-size="8.1">BLOCKING IN BETWEEN</text>
<path d="M1700 185 L1664 185 L1650 214" stroke-width="0.8"/>
<text transform="translate(1704 245) scale(0.908 1)" font-size="8.1">DROPPED GIRDER</text>
<path d="M1701 243 L1649 243" stroke-width="0.8"/>
<path d="M1649 243L1654 243.9L1654 242.1Z" fill="#e8ebf3" stroke-width="0.4"/>
<text transform="translate(1726.4 297.6) scale(0.872 1)" font-size="8.1">SEE FND. PLAN</text>
<text transform="translate(1726.4 304.4) scale(0.872 1)" font-size="8.1">FOR PIER SIZE</text>
<path d="M1723 295 L1710 299 L1652 320" stroke-width="0.8"/>
<text transform="translate(1726.4 325) scale(0.869 1)" font-size="8.1">SEE FND. PLAN FOR</text>
<text transform="translate(1726.4 332) scale(0.815 1)" font-size="8.1">FOOTING SIZE</text>
<path d="M1723 323 L1660 335" stroke-width="0.8"/>
<circle cx="1566.4" cy="376.6" r="9.4" stroke-width="1.0"/>
<text transform="translate(1566.4 380.2) scale(1.250 1)" font-size="11.2" text-anchor="middle" class="mid">D</text>
<text transform="translate(1580 379) scale(0.937 1)" font-size="18.9" class="big">DROPPED GIRDER</text>
<path d="M1579 381 L1742 381"/>
<path d="M1579 382.6 L1742 382.6" stroke-width="0.6"/>
<text transform="translate(1727 389.4) scale(0.934 1)" font-size="6.4">NTS</text>
</g>
<g id="detE">
<path d="M281.3 557.3 L281.3 877.5"/>
<path d="M285 557.3 L285 877.5" stroke-width="0.7"/>
<path d="M286.9 566.4 L286.9 877.5" stroke-width="0.7"/>
<path d="M291.6 566.4 L291.6 877.5" stroke-width="0.7"/>
<path d="M323.8 557.3 L323.8 877.5" stroke-width="0.8"/>
<path d="M332.6 557.3 L332.6 877.5" stroke-width="0.8"/>
<path d="M334.8 603 L334.8 877.5" stroke-width="0.7"/>
<path d="M281.3 557.3 L387.2 557.3" stroke-width="0.8"/>
<path d="M281.3 562 L387.2 562" stroke-width="0.8"/>
<path d="M281.3 566.4 L387.2 566.4" stroke-width="0.8"/>
<path d="M281.3 597.9 L387.6 597.9" stroke-width="0.8"/>
<path d="M281.3 603 L387.6 603" stroke-width="0.8"/>
<path d="M291.6 567.9 L323.8 567.9" stroke-width="0.6"/>
<path d="M291.6 596.9 L323.8 596.9" stroke-width="0.6"/>
<path d="M379.6 566.4 L379.6 597.9" stroke-width="0.8"/>
<path d="M384 566.4 L384 597.9" stroke-width="0.8"/>
<path d="M333.4 567.9 L379.6 567.9" stroke-width="0.6"/>
<path d="M333.4 596.9 L379.6 596.9" stroke-width="0.6"/>
<path d="M323.8 557.3 L327.8 557.3 L327.8 683.7 L323.8 683.7Z" stroke-width="0.7"/>
<path d="M329 557.3 L332.6 557.3 L332.6 683.7 L329 683.7Z" stroke-width="0.7"/>
<path d="M325.7 559.8h.01M325.7 564.8h.01M325.7 569.8h.01M325.7 574.8h.01M325.7 579.7h.01M325.7 584.7h.01M325.7 589.7h.01M325.7 594.7h.01M325.7 599.7h.01M325.7 604.7h.01M325.7 609.6h.01M325.7 614.6h.01M325.7 619.6h.01M325.7 624.6h.01M325.7 629.6h.01M325.7 634.6h.01M325.7 639.6h.01M325.7 644.5h.01M325.7 649.5h.01M325.7 654.5h.01M325.7 659.5h.01M325.7 664.5h.01M325.7 669.5h.01M325.7 674.5h.01M325.7 679.4h.01" stroke-width="0.9" stroke-linecap="round"/>
<path d="M330.9 562.3h.01M330.9 567.3h.01M330.9 572.3h.01M330.9 577.2h.01M330.9 582.2h.01M330.9 587.2h.01M330.9 592.2h.01M330.9 597.2h.01M330.9 602.2h.01M330.9 607.2h.01M330.9 612.1h.01M330.9 617.1h.01M330.9 622.1h.01M330.9 627.1h.01M330.9 632.1h.01M330.9 637.1h.01M330.9 642.1h.01M330.9 647h.01M330.9 652h.01M330.9 657h.01M330.9 662h.01M330.9 667h.01M330.9 672h.01M330.9 677h.01M330.9 681.9h.01" stroke-width="0.9" stroke-linecap="round"/>
<path d="M286.5 632.4 L392.8 632.4" stroke-width="0.8"/>
<path d="M286.5 637.1 L323.8 637.1" stroke-width="0.8"/>
<path d="M293 628 L293 637.5" stroke-width="0.7"/>
<path d="M301.8 628 L301.8 637.5" stroke-width="0.7"/>
<path d="M312.1 628 L312.1 637.5" stroke-width="0.7"/>
<path d="M321.6 628 L321.6 637.5" stroke-width="0.7"/>
<path d="M291.6 751.1 L323.8 751.1" stroke-width="0.7"/>
<path d="M291.6 755.5 L323.8 755.5" stroke-width="0.7"/>
<path d="M291.6 761.4 L323.8 761.4" stroke-width="0.7"/>
<path d="M347.3 629.4 L349.9 686.6" stroke-width="0.8"/>
<path d="M344.7 629.7L350.7 635.7" stroke-width="0.9"/>
<path d="M346.6 681.4L352.6 687.4" stroke-width="0.9"/>
<text transform="translate(345.8 658.8) rotate(-87) scale(0.830 1)" font-size="7.8" text-anchor="middle">20"</text>
<path d="M277.7 710.1 L336.7 710.1" stroke-width="0.8"/>
<path d="M278.4 713.3L284.8 706.9" stroke-width="0.9"/>
<path d="M329.9 713.3L336.3 706.9" stroke-width="0.9"/>
<text transform="translate(307 707.2) scale(1.000 1)" font-size="8.8" text-anchor="middle">SEE</text>
<text transform="translate(307 718.6) scale(0.950 1)" font-size="6.4" text-anchor="middle">PLAN</text>
<path d="M246.7 554.9 L246.7 885" stroke-width="0.8"/>
<path d="M242.3 557.5 L265 557.5" stroke-width="0.8"/>
<path d="M242.3 882.8 L265 882.8" stroke-width="0.8"/>
<path d="M243.5 554.3L249.9 560.7" stroke-width="0.9"/>
<path d="M243.5 879.6L249.9 886" stroke-width="0.9"/>
<text transform="translate(242.3 720.7) rotate(-90) scale(1.120 1)" font-size="8.1" text-anchor="middle">12'-0" MAX TOTAL WALL HEIGHT</text>
<path d="M360.4 598.9 L360.4 885" stroke-width="0.8"/>
<path d="M357.2 599L363.6 605.4" stroke-width="0.9"/>
<path d="M357.2 878.9L363.6 885.3" stroke-width="0.9"/>
<text transform="translate(356.7 742.7) rotate(-90) scale(1.281 1)" font-size="8.1" text-anchor="middle">10'-0" (MAX)</text>
<path d="M281.9 877.5 L333.1 877.5 L333.1 883.1 L281.9 883.1Z" stroke-width="0.8"/>
<path d="M281.9 879 L333.1 879" stroke-width="0.5"/>
<path d="M281.9 883.1 L281.9 947.2 L403.1 947.2 L403.1 935.2 L406.2 930.2 L400 924.4 L403.1 921.2 L403.1 901.9 L333.1 901.9 L333.1 883.1" stroke-width="1.0"/>
<path d="M294.4 876.5 L294.4 903.1 L299.4 903.1" stroke-width="2.0"/>
<circle cx="294.4" cy="876.6" r="1.1" fill="#e8ebf3" stroke-width="0.8"/>
<path d="M319.8 876.5 L319.8 903.1 L314.8 903.1" stroke-width="2.0"/>
<circle cx="319.8" cy="876.6" r="1.1" fill="#e8ebf3" stroke-width="0.8"/>
<path d="M284 890.8h.01M329.6 926.7h.01M299.1 890.8h.01M310.3 931.3h.01M300.2 930.2h.01M346.8 911.8h.01M332 946.3h.01M293.7 885h.01M395.3 909h.01M306.3 904.5h.01M326.3 943.7h.01M307.7 897.4h.01M352.7 918.1h.01M396.9 936.4h.01M325.2 896.5h.01M382.9 945.8h.01M286.1 929.9h.01M386.7 924.6h.01M308.7 933.7h.01M287.5 904.8h.01M322.6 908.6h.01M360.1 936.2h.01M397.9 945h.01M401.7 933.3h.01M319.3 894.8h.01M357.4 918h.01M305.6 941.5h.01M354.7 927.4h.01M294 908.8h.01M391.7 924.5h.01M337.1 934h.01M335.9 933.3h.01M294.4 945.4h.01M296.8 895.9h.01M322.7 928.5h.01M385 913.6h.01M342.3 933.2h.01M315.9 907.1h.01M356 923.7h.01M287.1 890.8h.01M299.1 929.3h.01M365.7 944.8h.01M374.4 945.6h.01M324.3 884.5h.01M327.5 901.5h.01M303.6 886.6h.01M297.5 938h.01M288.5 922.3h.01M307.3 895.9h.01M381 902.5h.01M304.6 912.3h.01M365.9 916.7h.01M385.7 908.9h.01M345.4 928.7h.01M337.9 928.7h.01M297.3 932.9h.01M371.9 942.9h.01M365.3 920.1h.01M302.4 937.3h.01M296.8 910.4h.01M299.4 907.6h.01M319.4 910.5h.01M367.8 917.7h.01M311.6 932.6h.01M370.7 935.7h.01M286.5 922.3h.01M306.8 934.8h.01M326.2 908.9h.01M380.6 907.9h.01M306.3 897.2h.01M324 927.5h.01M326.7 932.1h.01M290.4 899.4h.01M357.5 913.8h.01M342.5 942.4h.01M315.8 895.1h.01M286.5 914h.01M318.2 913.5h.01M283.2 883.8h.01M328.1 931.3h.01M318.6 941h.01" stroke-width="1.8" stroke-linecap="round"/>
<path d="M241.9 904 L281.2 904"/>
<path d="M242.3 905.6 L251.3 905.6" stroke-width="0.85"/>
<path d="M242.3 908.3 L251.3 908.3" stroke-width="0.85"/>
<path d="M242.3 911.1 L251.3 911.1" stroke-width="0.85"/>
<path d="M253.5 904.3 L253.5 912.3" stroke-width="0.85"/>
<path d="M256.6 904.3 L256.6 912.3" stroke-width="0.85"/>
<path d="M259.8 904.3 L259.8 912.3" stroke-width="0.85"/>
<path d="M262 905.6 L271 905.6" stroke-width="0.85"/>
<path d="M262 908.3 L271 908.3" stroke-width="0.85"/>
<path d="M262 911.1 L271 911.1" stroke-width="0.85"/>
<path d="M273.2 904.3 L273.2 912.3" stroke-width="0.85"/>
<path d="M276.3 904.3 L276.3 912.3" stroke-width="0.85"/>
<path d="M279.5 904.3 L279.5 912.3" stroke-width="0.85"/>
<path d="M243.6 913 L243.6 920.9" stroke-width="0.85"/>
<path d="M246.8 913 L246.8 920.9" stroke-width="0.85"/>
<path d="M249.9 913 L249.9 920.9" stroke-width="0.85"/>
<path d="M252.1 914.2 L261.2 914.2" stroke-width="0.85"/>
<path d="M252.1 916.9 L261.2 916.9" stroke-width="0.85"/>
<path d="M252.1 919.7 L261.2 919.7" stroke-width="0.85"/>
<path d="M263.3 913 L263.3 920.9" stroke-width="0.85"/>
<path d="M266.5 913 L266.5 920.9" stroke-width="0.85"/>
<path d="M269.6 913 L269.6 920.9" stroke-width="0.85"/>
<path d="M271.8 914.2 L280.9 914.2" stroke-width="0.85"/>
<path d="M271.8 916.9 L280.9 916.9" stroke-width="0.85"/>
<path d="M271.8 919.7 L280.9 919.7" stroke-width="0.85"/>
<path d="M293.8 973.8 L388.8 973.8 L388.8 991.9 L293.8 991.9Z"/>
<text transform="translate(301.9 986.2) scale(0.971 1)" font-size="8.8">INTERIOR VIEW</text>
<path d="M124.9 927.9 L269.4 927.9 L269.4 991.4 L124.9 991.4Z"/>
<text transform="translate(129.3 937.8) scale(0.950 1)" font-size="6.8">NOTE: FOR CMU APPLICATIONS AT</text>
<text transform="translate(129.3 946) scale(0.950 1)" font-size="6.8">GARAGE DOORS, ANCHOR BOLTS</text>
<text transform="translate(129.3 954.3) scale(0.950 1)" font-size="6.8">SHALL BE ⅝" DIAMETER AND SHALL</text>
<text transform="translate(129.3 962.5) scale(0.950 1)" font-size="6.8">EXTEND TO FOOTING (PER  FIGURE</text>
<text transform="translate(129.3 970.7) scale(0.950 1)" font-size="6.8">R602.10.7 (SEE GARAGE "WING WALL"</text>
<text transform="translate(129.3 978.9) scale(0.950 1)" font-size="6.8">DETAIL ON STRUCTURAL PLANS)</text>
<path d="M268.1 950.6 L280 950.6 L313.8 905" stroke-width="0.8"/>
<path d="M313.8 905L310.1 908.5L311.5 909.6Z" fill="#e8ebf3" stroke-width="0.4"/>
<text transform="translate(128.6 572.2) scale(0.980 1)" font-size="7.4">(2) SIMPSON CS16 STRAP</text>
<text transform="translate(128.6 581.2) scale(0.980 1)" font-size="7.4">WITH 8d NAILS. (EXTEND</text>
<text transform="translate(128.6 590.3) scale(0.980 1)" font-size="7.4">TO WALL TOP PLATE AND</text>
<text transform="translate(128.6 599.4) scale(0.980 1)" font-size="7.4">EXTEND 20" UNDER</text>
<text transform="translate(128.6 608.4) scale(0.980 1)" font-size="7.4">HEADER).</text>
<path d="M222.9 569.6 L230.2 569.6 L323.7 628.3" stroke-width="0.8"/>
<path d="M323.7 628.3L320 624.9L319 626.4Z" fill="#e8ebf3" stroke-width="0.4"/>
<text transform="translate(128.6 649.6) scale(0.980 1)" font-size="7.4">(2) ROWS OF 16d</text>
<text transform="translate(128.6 658.4) scale(0.980 1)" font-size="7.4">NAILS @ 3" OC</text>
<path d="M191.7 648.1 L268.7 648.1 L299.9 638.9" stroke-width="0.8"/>
<path d="M299.9 638.9L294.8 639.5L295.3 641.2Z" fill="#e8ebf3" stroke-width="0.4"/>
<text transform="translate(128.6 731.7) scale(0.980 1)" font-size="7.4">MIN (2)2X WALL FRAMING.</text>
<text transform="translate(128.6 740.5) scale(0.980 1)" font-size="7.4">SEE PLAN FOR STUD</text>
<text transform="translate(128.6 749.3) scale(0.980 1)" font-size="7.4">COLUMN REQUIREMENTS.</text>
<path d="M221 738.3 L255.9 738.3" stroke-width="0.8"/>
<path d="M255.9 738.3 L282.3 770.2" stroke-width="0.8"/>
<path d="M282.3 770.2L279.8 765.8L278.4 766.9Z" fill="#e8ebf3" stroke-width="0.4"/>
<path d="M255.9 738.3 L322.6 790.4" stroke-width="0.8"/>
<path d="M322.6 790.4L319.2 786.6L318.1 788Z" fill="#e8ebf3" stroke-width="0.4"/>
<text transform="translate(128.6 832.9) scale(0.980 1)" font-size="7.4">TREATED SILLPLATE</text>
<path d="M202.7 830.7 L252.2 830.7 L298 877.7" stroke-width="0.8"/>
<path d="M298 877.7L295.2 873.5L293.9 874.7Z" fill="#e8ebf3" stroke-width="0.4"/>
<text transform="translate(128.6 903) scale(0.980 1)" font-size="6.8">½" ANCHOR BOLTS PER</text>
<text transform="translate(128.6 910.9) scale(0.980 1)" font-size="6.8">R403.1.6 WITH 2"x2"x3⁄16"</text>
<text transform="translate(128.6 918.8) scale(0.980 1)" font-size="6.8">PLATE WASHERS.</text>
<path d="M208.9 907.8 L230.2 907.8 L290.7 891.2" stroke-width="0.8"/>
<path d="M290.7 891.2L285.6 891.7L286.1 893.4Z" fill="#e8ebf3" stroke-width="0.4"/>
<text transform="translate(393.4 567.8) scale(0.970 1)" font-size="6.8">NOTE: AT INTERMEDIATE WALL</text>
<text transform="translate(393.4 575.8) scale(0.970 1)" font-size="6.8">SEGMENTS BETWEEN OPENINGS, THE</text>
<text transform="translate(393.4 583.9) scale(0.970 1)" font-size="6.8">STRAPS SHALL BE INSTALLED AT</text>
<text transform="translate(393.4 592) scale(0.970 1)" font-size="6.8">THE STUD COLUMN ON EACH END</text>
<text transform="translate(393.4 600) scale(0.970 1)" font-size="6.8">OF THE WALL SEGMENT.</text>
<path d="M391.6 582.1 L334.7 582.1" stroke-width="0.8"/>
<path d="M334.7 582.1L339.7 583L339.7 581.2Z" fill="#e8ebf3" stroke-width="0.4"/>
<text transform="translate(386.1 655.8) scale(0.970 1)" font-size="6.8">MIN. 3"x11.25" HEADER. SEE PLAN</text>
<text transform="translate(386.1 664) scale(0.970 1)" font-size="6.8">FOR ACTUAL SIZE. EXTEND</text>
<text transform="translate(386.1 672.3) scale(0.970 1)" font-size="6.8">OVER PANEL.</text>
<path d="M384.2 671.2 L373.2 671.2 L358.6 634.5" stroke-width="0.8"/>
<text transform="translate(386.1 711.5) scale(0.970 1)" font-size="6.8">FASTEN SHEATHING TO HEADER</text>
<text transform="translate(386.1 719.6) scale(0.970 1)" font-size="6.8">W/ 8d COMMON NAILS IN 3" GRID</text>
<text transform="translate(386.1 727.7) scale(0.970 1)" font-size="6.8">PATTERN AND 3" O.C. IN ALL</text>
<text transform="translate(386.1 735.7) scale(0.970 1)" font-size="6.8">FRAMING (STUDS, BLOCKING, AND</text>
<text transform="translate(386.1 743.8) scale(0.970 1)" font-size="6.8">SILLS) TYP.</text>
<path d="M499.8 720.7 L514.4 720.7 L549.3 629" stroke-width="0.8"/>
<text transform="translate(386.1 775) scale(0.970 1)" font-size="6.8">PANEL EDGES SHALL BE</text>
<text transform="translate(386.1 783.1) scale(0.970 1)" font-size="6.8">BLOCKED AND OCCUR WITHIN 24"</text>
<text transform="translate(386.1 791.1) scale(0.970 1)" font-size="6.8">OF MID-HEIGHT.  ONE ROW OF</text>
<text transform="translate(386.1 799.2) scale(0.970 1)" font-size="6.8">TYP. SHEATHING-TO-FRAMING</text>
<text transform="translate(386.1 807.3) scale(0.970 1)" font-size="6.8">NAILING IS REQ'D (3" OC).</text>
<text transform="translate(386.1 815.3) scale(0.970 1)" font-size="6.8">ATTACH BLOCKING TOGETHER W/</text>
<text transform="translate(386.1 823.4) scale(0.970 1)" font-size="6.8">(3) 16d SINKERS.</text>
<path d="M490.6 789.7 L529.1 789.7 L549.3 764.7" stroke-width="0.8"/>
<text transform="translate(380.6 876.6) scale(0.920 1)" font-size="5.9">OPTIONAL CURB:</text>
<text transform="translate(380.6 883.9) scale(0.920 1)" font-size="5.9">CURB HEIGHT (MAX.): 6"</text>
<text transform="translate(380.6 891.2) scale(0.920 1)" font-size="5.9">CURB WIDTH: 8"</text>
<path d="M378.8 875.4 L368.8 875.4 L333.8 893.8" stroke-width="0.8"/>
<path d="M333.8 893.8L338.6 892.2L337.8 890.6Z" fill="#e8ebf3" stroke-width="0.4"/>
<text transform="translate(401.5 959.8) scale(0.920 1)" font-size="5.9">FOOTING / FOUNDATION (SEE</text>
<text transform="translate(401.5 967.5) scale(0.920 1)" font-size="5.9">PLAN)</text>
<path d="M398.1 961 L370.6 961 L336.2 935.6" stroke-width="0.8"/>
<path d="M336.2 935.6L339.7 939.3L340.8 937.9Z" fill="#e8ebf3" stroke-width="0.4"/>
<path d="M521.6 557.3 L521.6 877.5" stroke-width="1.0"/>
<path d="M526 557.3 L526 877.5" stroke-width="0.7"/>
<path d="M531.3 566.4 L531.3 877.5" stroke-width="0.7"/>
<path d="M563.4 566.4 L563.4 877.5" stroke-width="0.7"/>
<path d="M568.5 557.3 L568.5 877.5" stroke-width="0.7"/>
<path d="M573.4 557.3 L573.4 602.3" stroke-width="0.8"/>
<path d="M573.4 632.7 L573.4 877.5" stroke-width="1.0"/>
<path d="M521.6 557.3 L627.6 557.3" stroke-width="0.8"/>
<path d="M521.6 562 L627.6 562" stroke-width="0.8"/>
<path d="M521.6 566.4 L627.6 566.4" stroke-width="0.8"/>
<path d="M521.6 597.9 L627.6 597.9" stroke-width="0.8"/>
<path d="M521.6 602.3 L633.5 602.3" stroke-width="0.8"/>
<path d="M521.6 632.7 L633.5 632.7" stroke-width="0.8"/>
<path d="M526.5 637.1 L573.4 637.1" stroke-width="0.7"/>
<path d="M621 566.4 L621 597.9" stroke-width="0.8"/>
<path d="M625.4 566.4 L625.4 597.9" stroke-width="0.8"/>
<path d="M573.4 602.3 L573.4 632.7" stroke-width="0.7"/>
<path d="M531.3 751.1 L563.4 751.1" stroke-width="0.7"/>
<path d="M531.3 755.5 L563.4 755.5" stroke-width="0.7"/>
<path d="M531.3 761.4 L563.4 761.4" stroke-width="0.7"/>
<path d="M523.8 559.8h.01M523.8 568.9h.01M523.8 578h.01M523.8 587.1h.01M523.8 596.2h.01M523.8 605.2h.01M523.8 614.3h.01M523.8 623.4h.01M523.8 632.5h.01M523.8 641.6h.01M523.8 650.7h.01M523.8 659.8h.01M523.8 668.9h.01M523.8 678h.01M523.8 687.1h.01M523.8 696.2h.01M523.8 705.2h.01M523.8 714.3h.01M523.8 723.4h.01M523.8 732.5h.01M523.8 741.6h.01M523.8 750.7h.01M523.8 759.8h.01M523.8 768.9h.01M523.8 778h.01M523.8 787.1h.01M523.8 796.2h.01M523.8 805.2h.01M523.8 814.3h.01M523.8 823.4h.01M523.8 832.5h.01M523.8 841.6h.01M523.8 850.7h.01M523.8 859.8h.01M523.8 868.9h.01" stroke-width="1.3" stroke-linecap="round"/>
<path d="M528.7 559.8h.01M528.7 568.9h.01M528.7 578h.01M528.7 587.1h.01M528.7 596.2h.01M528.7 605.2h.01M528.7 614.3h.01M528.7 623.4h.01M528.7 632.5h.01M528.7 641.6h.01M528.7 650.7h.01M528.7 659.8h.01M528.7 668.9h.01M528.7 678h.01M528.7 687.1h.01M528.7 696.2h.01M528.7 705.2h.01M528.7 714.3h.01M528.7 723.4h.01M528.7 732.5h.01M528.7 741.6h.01M528.7 750.7h.01M528.7 759.8h.01M528.7 768.9h.01M528.7 778h.01M528.7 787.1h.01M528.7 796.2h.01M528.7 805.2h.01M528.7 814.3h.01M528.7 823.4h.01M528.7 832.5h.01M528.7 841.6h.01M528.7 850.7h.01M528.7 859.8h.01M528.7 868.9h.01" stroke-width="1.3" stroke-linecap="round"/>
<path d="M566 559.8h.01M566 568.9h.01M566 578h.01M566 587.1h.01M566 596.2h.01M566 605.2h.01M566 614.3h.01M566 623.4h.01M566 632.5h.01M566 641.6h.01M566 650.7h.01M566 659.8h.01M566 668.9h.01M566 678h.01M566 687.1h.01M566 696.2h.01M566 705.2h.01M566 714.3h.01M566 723.4h.01M566 732.5h.01M566 741.6h.01M566 750.7h.01M566 759.8h.01M566 768.9h.01M566 778h.01M566 787.1h.01M566 796.2h.01M566 805.2h.01M566 814.3h.01M566 823.4h.01M566 832.5h.01M566 841.6h.01M566 850.7h.01M566 859.8h.01M566 868.9h.01" stroke-width="1.3" stroke-linecap="round"/>
<path d="M570.9 559.8h.01M570.9 568.9h.01M570.9 578h.01M570.9 587.1h.01M570.9 596.2h.01M570.9 605.2h.01M570.9 614.3h.01M570.9 623.4h.01M570.9 632.5h.01M570.9 641.6h.01M570.9 650.7h.01M570.9 659.8h.01M570.9 668.9h.01M570.9 678h.01M570.9 687.1h.01M570.9 696.2h.01M570.9 705.2h.01M570.9 714.3h.01M570.9 723.4h.01M570.9 732.5h.01M570.9 741.6h.01M570.9 750.7h.01M570.9 759.8h.01M570.9 768.9h.01M570.9 778h.01M570.9 787.1h.01M570.9 796.2h.01M570.9 805.2h.01M570.9 814.3h.01M570.9 823.4h.01M570.9 832.5h.01M570.9 841.6h.01M570.9 850.7h.01M570.9 859.8h.01M570.9 868.9h.01" stroke-width="1.3" stroke-linecap="round"/>
<path d="M531.6 559.6h.01M541.3 559.6h.01M550.9 559.6h.01M560.6 559.6h.01M570.3 559.6h.01" stroke-width="1.3" stroke-linecap="round"/>
<path d="M531.6 564.2h.01M541.3 564.2h.01M550.9 564.2h.01M560.6 564.2h.01M570.3 564.2h.01" stroke-width="1.3" stroke-linecap="round"/>
<path d="M528.7 600.1h.01M538.3 600.1h.01M548 600.1h.01M557.7 600.1h.01M567.4 600.1h.01" stroke-width="1.3" stroke-linecap="round"/>
<path d="M528.7 635h.01M538.3 635h.01M548 635h.01M557.7 635h.01M567.4 635h.01" stroke-width="1.3" stroke-linecap="round"/>
<path d="M533.8 606h.01M543.5 606h.01M553.1 606h.01M562.8 606h.01M572.5 606h.01" stroke-width="1.3" stroke-linecap="round"/>
<path d="M533.8 613.3h.01M543.5 613.3h.01M553.1 613.3h.01M562.8 613.3h.01M572.5 613.3h.01" stroke-width="1.3" stroke-linecap="round"/>
<path d="M533.8 621.4h.01M543.5 621.4h.01M553.1 621.4h.01M562.8 621.4h.01M572.5 621.4h.01" stroke-width="1.3" stroke-linecap="round"/>
<path d="M533.8 629.4h.01M543.5 629.4h.01M553.1 629.4h.01M562.8 629.4h.01M572.5 629.4h.01" stroke-width="1.3" stroke-linecap="round"/>
<path d="M522.4 570.4 L527.8 565.1" stroke-width="0.8"/>
<path d="M528.9 564 L534.1 558.8" stroke-width="0.8"/>
<path d="M525.8 581 L536.8 570" stroke-width="0.8"/>
<path d="M539 567.8 L547.7 559" stroke-width="0.8"/>
<path d="M522.9 597.8 L540.2 580.5" stroke-width="0.8"/>
<path d="M543.5 577.2 L557.7 563" stroke-width="0.8"/>
<path d="M539.1 595.5 L557.3 577.3" stroke-width="0.8"/>
<path d="M560.6 574 L576.6 558" stroke-width="0.8"/>
<path d="M559.1 589.4 L574.2 574.3" stroke-width="0.8"/>
<path d="M577.5 571.1 L591.3 557.3" stroke-width="0.8"/>
<path d="M566.1 596.4 L582.2 580.3" stroke-width="0.8"/>
<path d="M585.4 577.1 L604.6 557.9" stroke-width="0.8"/>
<path d="M583.8 592.6 L600.5 575.9" stroke-width="0.8"/>
<path d="M603.8 572.7 L619.1 557.3" stroke-width="0.8"/>
<path d="M593 597.4 L607.6 582.8" stroke-width="0.8"/>
<path d="M610.4 580 L625.1 565.3" stroke-width="0.8"/>
<path d="M608 596.3 L614.4 589.8" stroke-width="0.8"/>
<path d="M616.1 588.1 L626.2 578.1" stroke-width="0.8"/>
<path d="M621.2 597.1 L624.1 594.1" stroke-width="0.8"/>
<path d="M624.7 593.5 L627.6 590.6" stroke-width="0.8"/>
<path d="M522.4 615.4 L526.8 611" stroke-width="0.8"/>
<path d="M527.9 609.9 L533.2 604.6" stroke-width="0.8"/>
<path d="M522.7 629.1 L531.3 620.5" stroke-width="0.8"/>
<path d="M533.6 618.2 L544.2 607.6" stroke-width="0.8"/>
<path d="M540 625.7 L552.8 613" stroke-width="0.8"/>
<path d="M555.2 610.5 L563.4 602.3" stroke-width="0.8"/>
<path d="M548.7 631 L560.2 619.4" stroke-width="0.8"/>
<path d="M562.6 617 L573.4 606.2" stroke-width="0.8"/>
<path d="M562.2 631.4 L571.8 621.8" stroke-width="0.8"/>
<path d="M574.2 619.3 L584.6 608.9" stroke-width="0.8"/>
<path d="M581.9 625.6 L594.8 612.8" stroke-width="0.8"/>
<path d="M597.2 610.3 L605.2 602.3" stroke-width="0.8"/>
<path d="M594.8 626.6 L604.8 616.6" stroke-width="0.8"/>
<path d="M607.3 614.2 L618.2 603.2" stroke-width="0.8"/>
<path d="M607.5 627.9 L619.9 615.5" stroke-width="0.8"/>
<path d="M622.3 613 L633 602.3" stroke-width="0.8"/>
<path d="M620.3 629 L625.6 623.7" stroke-width="0.8"/>
<path d="M627 622.3 L633.5 615.8" stroke-width="0.8"/>
<path d="M631 632.2 L632.2 631.1" stroke-width="0.8"/>
<path d="M632.4 630.8 L633.4 629.9" stroke-width="0.8"/>
<path d="M524.1 647.5 L530.8 640.8" stroke-width="0.8"/>
<path d="M532 639.5 L537.7 633.8" stroke-width="0.8"/>
<path d="M529.2 658.5 L542.5 645.2" stroke-width="0.8"/>
<path d="M545.1 642.7 L553.9 633.8" stroke-width="0.8"/>
<path d="M522 681.9 L539.9 664" stroke-width="0.8"/>
<path d="M543.7 660.1 L567.4 636.5" stroke-width="0.8"/>
<path d="M530 690 L552.5 667.4" stroke-width="0.8"/>
<path d="M556.7 663.3 L573.4 646.6" stroke-width="0.8"/>
<path d="M527.7 708.4 L545.1 691" stroke-width="0.8"/>
<path d="M549.3 686.8 L570.4 665.7" stroke-width="0.8"/>
<path d="M529 723.2 L544.7 707.6" stroke-width="0.8"/>
<path d="M548.8 703.4 L566.6 685.6" stroke-width="0.8"/>
<path d="M525.2 743.1 L547.9 720.5" stroke-width="0.8"/>
<path d="M552 716.3 L573.4 695" stroke-width="0.8"/>
<path d="M523.7 760.8 L545.4 739.1" stroke-width="0.8"/>
<path d="M549.5 735 L566.5 718" stroke-width="0.8"/>
<path d="M529.6 771 L546.1 754.5" stroke-width="0.8"/>
<path d="M550.3 750.4 L565.8 734.8" stroke-width="0.8"/>
<path d="M532.9 783.9 L550 766.7" stroke-width="0.8"/>
<path d="M554.2 762.6 L571.9 744.8" stroke-width="0.8"/>
<path d="M534.3 798.5 L556.6 776.2" stroke-width="0.8"/>
<path d="M560.8 772.1 L573.4 759.5" stroke-width="0.8"/>
<path d="M534.1 814.9 L553.8 795.2" stroke-width="0.8"/>
<path d="M557.9 791.1 L573.4 775.6" stroke-width="0.8"/>
<path d="M524.3 840.9 L547.1 818" stroke-width="0.8"/>
<path d="M551.2 813.9 L573.4 791.8" stroke-width="0.8"/>
<path d="M534.1 847.1 L556.6 824.7" stroke-width="0.8"/>
<path d="M560.7 820.5 L573.4 807.9" stroke-width="0.8"/>
<path d="M526.3 871.1 L543.1 854.3" stroke-width="0.8"/>
<path d="M547.2 850.1 L564.3 833.1" stroke-width="0.8"/>
<path d="M536.6 876.9 L549.5 864" stroke-width="0.8"/>
<path d="M552.5 861 L568.2 845.3" stroke-width="0.8"/>
<path d="M552.2 877.5 L560.7 869" stroke-width="0.8"/>
<path d="M562.4 867.3 L570.2 859.5" stroke-width="0.8"/>
<path d="M568.7 877.1 L570.8 875" stroke-width="0.8"/>
<path d="M571.2 874.5 L573.3 872.5" stroke-width="0.8"/>
<path d="M573.4 668.7 L632.8 668.7" stroke-width="0.8"/>
<path d="M632.8 668.7L626.8 667.7L626.8 669.8Z" fill="#e8ebf3" stroke-width="0.4"/>
<text transform="translate(585.1 666.8) scale(1.001 1)" font-size="7.4">2' TO 18'</text>
<path d="M521.4 877.5 L572.6 877.5 L572.6 883.1 L521.4 883.1Z" stroke-width="0.8"/>
<path d="M521.4 879 L572.6 879" stroke-width="0.5"/>
<path d="M521.4 883.1 L521.4 947.2 L642.6 947.2 L642.6 935.2 L645.7 930.2 L639.5 924.4 L642.6 921.2 L642.6 901.9 L572.6 901.9 L572.6 883.1" stroke-width="1.0"/>
<path d="M533.9 876.5 L533.9 903.1 L538.9 903.1" stroke-width="2.0"/>
<circle cx="533.9" cy="876.6" r="1.1" fill="#e8ebf3" stroke-width="0.8"/>
<path d="M559.2 876.5 L559.2 903.1 L554.2 903.1" stroke-width="2.0"/>
<circle cx="559.2" cy="876.6" r="1.1" fill="#e8ebf3" stroke-width="0.8"/>
<path d="M596.1 936.6h.01M622.1 916.1h.01M597.7 906.9h.01M603.9 921.4h.01M555.8 907.5h.01M610.3 911.6h.01M637.1 944.7h.01M531 901.9h.01M565.3 928h.01M621.2 919.1h.01M598.7 919.7h.01M526.1 916.8h.01M547.6 909.9h.01M523 924.9h.01M564.2 893.7h.01M625.3 929.4h.01M608.3 927.6h.01M583.3 941.2h.01M608 913.9h.01M547.6 922.5h.01M527.8 911.9h.01M600 905.2h.01M525.5 946.5h.01M529.7 893.6h.01M585.6 913.5h.01M591.2 917.9h.01M557.3 897h.01M605.3 910.7h.01M584.4 941.2h.01M523 901.2h.01M612.5 908.9h.01M560 896h.01M620.6 928h.01M629.7 927.8h.01M563.6 918.3h.01M624 926h.01M545.6 944.4h.01M557.9 884h.01M554.1 916.1h.01M525.3 920.9h.01M575.3 904.6h.01M612.7 922.6h.01M637.8 938.3h.01M625.2 942.3h.01M624 914.3h.01M530.2 911.8h.01M596.3 944.6h.01M600.5 919.8h.01M532.3 924.6h.01M526.4 892.8h.01M527.2 929.7h.01M634.9 921h.01M532.5 930.1h.01M542.9 928.3h.01M603.2 943h.01M541.8 898.4h.01M560.3 888.6h.01M635.4 922.8h.01M534.7 913.7h.01M533.8 944.2h.01M565.1 883.9h.01M610.8 904.5h.01M599.9 932.8h.01M531 918h.01M551.9 926h.01M528.9 935.2h.01M618.2 943.1h.01M622 920.2h.01M577.2 917.4h.01M598.3 945h.01M540.3 914.8h.01M541.7 932.9h.01M592.2 927h.01M552.9 913.8h.01M541.1 893.3h.01" stroke-width="1.8" stroke-linecap="round"/>
<path d="M481.4 904 L520.7 904"/>
<path d="M481.8 905.6 L490.8 905.6" stroke-width="0.85"/>
<path d="M481.8 908.3 L490.8 908.3" stroke-width="0.85"/>
<path d="M481.8 911.1 L490.8 911.1" stroke-width="0.85"/>
<path d="M493 904.3 L493 912.3" stroke-width="0.85"/>
<path d="M496.1 904.3 L496.1 912.3" stroke-width="0.85"/>
<path d="M499.3 904.3 L499.3 912.3" stroke-width="0.85"/>
<path d="M501.4 905.6 L510.5 905.6" stroke-width="0.85"/>
<path d="M501.4 908.3 L510.5 908.3" stroke-width="0.85"/>
<path d="M501.4 911.1 L510.5 911.1" stroke-width="0.85"/>
<path d="M512.7 904.3 L512.7 912.3" stroke-width="0.85"/>
<path d="M515.8 904.3 L515.8 912.3" stroke-width="0.85"/>
<path d="M519 904.3 L519 912.3" stroke-width="0.85"/>
<path d="M483.1 913 L483.1 920.9" stroke-width="0.85"/>
<path d="M486.3 913 L486.3 920.9" stroke-width="0.85"/>
<path d="M489.4 913 L489.4 920.9" stroke-width="0.85"/>
<path d="M491.6 914.2 L500.7 914.2" stroke-width="0.85"/>
<path d="M491.6 916.9 L500.7 916.9" stroke-width="0.85"/>
<path d="M491.6 919.7 L500.7 919.7" stroke-width="0.85"/>
<path d="M502.8 913 L502.8 920.9" stroke-width="0.85"/>
<path d="M506 913 L506 920.9" stroke-width="0.85"/>
<path d="M509.1 913 L509.1 920.9" stroke-width="0.85"/>
<path d="M511.3 914.2 L520.3 914.2" stroke-width="0.85"/>
<path d="M511.3 916.9 L520.3 916.9" stroke-width="0.85"/>
<path d="M511.3 919.7 L520.3 919.7" stroke-width="0.85"/>
<path d="M530.4 973.8 L625.4 973.8 L625.4 991.9 L530.4 991.9Z"/>
<text transform="translate(537.2 986.2) scale(0.966 1)" font-size="8.8">EXTERIOR VIEW</text>
<text transform="translate(585.2 820.5) scale(0.980 1)" font-size="6.8">MIN ⅜" THICK WOOD</text>
<text transform="translate(585.2 828.2) scale(0.980 1)" font-size="6.8">STRUCTURAL PANEL</text>
<text transform="translate(585.2 835.9) scale(0.980 1)" font-size="6.8">SHEATHING</text>
<path d="M584.1 826.3 L560.3 826.3 L545.6 806.9" stroke-width="0.8"/>
<text transform="translate(599.5 852.7) scale(0.980 1)" font-size="6.8">TREATED SILLPLATE</text>
<path d="M596.9 850.2 L573.1 850.2 L570.5 876.6" stroke-width="0.8"/>
<circle cx="225.4" cy="1039.8" r="12.1" stroke-width="1.0"/>
<text transform="translate(225.4 1043.8) scale(1.100 1)" font-size="11.2" text-anchor="middle" class="mid">E</text>
<text transform="translate(249.3 1042.3) scale(1.045 1)" font-size="11.2" class="mid">CS-PF: CONTINUOUS PORTAL FRAME CONSTRUCTION</text>
<path d="M249.3 1044.9 L559.2 1044.9"/>
<text transform="translate(249.3 1051.5) scale(1.123 1)" font-size="7">DETAIL AND APPLICATION BASED ON  FIGURE</text>
<text transform="translate(249.3 1060.7) scale(1.066 1)" font-size="7">R602.10.1 - PORTAL FRAME CONSTRUCTION</text>
</g>
<g id="detF">
<path d="M969.6 507.3 L969.6 828.2"/>
<path d="M974 507.3 L974 828.2" stroke-width="0.7"/>
<path d="M979.9 517.6 L979.9 828.2" stroke-width="0.7"/>
<path d="M1012.2 634.9 L1012.2 828.2" stroke-width="0.8"/>
<path d="M1017.3 634.9 L1017.3 828.2" stroke-width="0.8"/>
<path d="M1021.7 507.3 L1021.7 828.2" stroke-width="0.8"/>
<path d="M969.6 507.3 L1075.2 507.3" stroke-width="0.8"/>
<path d="M969.6 512.5 L1075.2 512.5" stroke-width="0.8"/>
<path d="M969.6 517.3 L1075.2 517.3" stroke-width="0.8"/>
<path d="M974 548.4 L1076 548.4" stroke-width="0.8"/>
<path d="M974 553.5 L1076 553.5" stroke-width="0.8"/>
<path d="M979.9 518.3 L1012.2 518.3 L1012.2 547.7 L979.9 547.7Z" stroke-width="0.6"/>
<path d="M1022.4 518.3 L1068.6 518.3 L1068.6 547.7 L1022.4 547.7Z" stroke-width="0.6"/>
<path d="M1068.6 517.3 L1068.6 548.4" stroke-width="0.8"/>
<path d="M1073 517.3 L1073 548.4" stroke-width="0.8"/>
<path d="M1012.2 507.3 L1021.7 507.3 L1021.7 634.9 L1012.2 634.9Z" fill="#d9d23a" stroke-width="0.6" stroke="#d9d23a"/>
<path d="M1016.9 507.3 L1016.9 634.9" stroke-width="0.8" stroke="#24283e"/>
<path d="M1014.4 508.8 L1014.4 634.2" stroke-dasharray="2.2 2.2" stroke="#3a3a20"/>
<path d="M1019.4 508.8 L1019.4 634.2" stroke-dasharray="2.2 2.2" stroke="#3a3a20"/>
<path d="M974.8 582.8 L1080.4 582.8" stroke-width="0.8"/>
<path d="M974.8 588 L1012.2 588" stroke-width="0.8"/>
<path d="M981.4 579.2 L981.4 588" stroke-width="0.7"/>
<path d="M990.9 579.2 L990.9 588" stroke-width="0.7"/>
<path d="M1001.2 579.2 L1001.2 588" stroke-width="0.7"/>
<path d="M1010 579.2 L1010 588" stroke-width="0.7"/>
<path d="M979.9 701.6 L1012.2 701.6" stroke-width="0.7"/>
<path d="M979.9 705.3 L1012.2 705.3" stroke-width="0.7"/>
<path d="M979.9 711.1 L1012.2 711.1" stroke-width="0.7"/>
<path d="M1031.2 579.9 L1034.5 637.1" stroke-width="0.8"/>
<path d="M1028.5 580.1L1034.5 586.1" stroke-width="0.9"/>
<path d="M1031.2 631.2L1037.2 637.2" stroke-width="0.9"/>
<text transform="translate(1030.2 609.2) rotate(-87) scale(0.830 1)" font-size="7.8" text-anchor="middle">20"</text>
<path d="M966.7 660.6 L1024.9 660.6" stroke-width="0.8"/>
<path d="M966.9 663.8L973.3 657.4" stroke-width="0.9"/>
<path d="M1018.2 663.8L1024.6 657.4" stroke-width="0.9"/>
<text transform="translate(995.6 658.4) scale(1.000 1)" font-size="7.8" text-anchor="middle">SEE</text>
<text transform="translate(995.6 668.6) scale(0.950 1)" font-size="6.8" text-anchor="middle">PLAN</text>
<path d="M934 505.9 L934 834.6" stroke-width="0.8"/>
<path d="M930.8 504.1L937.2 510.5" stroke-width="0.9"/>
<path d="M930.8 507.3 L956.5 507.3" stroke-width="0.8"/>
<path d="M930.8 829.7L937.2 836.1" stroke-width="0.9"/>
<path d="M931.5 832.9 L957.2 832.9" stroke-width="0.8"/>
<text transform="translate(931.3 664.9) rotate(-90) scale(1.125 1)" font-size="7.5" text-anchor="middle">12'-0" MAX TOTAL WALL HEIGHT</text>
<path d="M1041.5 551.3 L1041.5 834.6" stroke-width="0.8"/>
<path d="M1038.3 550.3L1044.7 556.7" stroke-width="0.9"/>
<path d="M1038.3 829.7L1044.7 836.1" stroke-width="0.9"/>
<text transform="translate(1039.1 693.5) rotate(-90) scale(1.085 1)" font-size="7.8" text-anchor="middle">10'-0" (MAX)</text>
<path d="M979.9 817.9 L1012.2 817.9" stroke-width="0.8"/>
<path d="M969.6 823.8 L1021.7 823.8" stroke-width="0.8"/>
<path d="M969.6 828.2 L1021.7 828.2" stroke-width="0.8"/>
<path d="M969.6 833.3 L1021.7 833.3" stroke-width="0.8"/>
<path d="M969.6 828.2 L969.6 935.2"/>
<path d="M1021.7 828.2 L1021.7 935.2"/>
<path d="M969.6 852.4 L1021.7 852.4" stroke-width="2.0" stroke="#bcc0cd"/>
<path d="M969.6 857.9 L1021.7 857.9" stroke-width="1.0" stroke="#bcc0cd"/>
<path d="M969.6 884.3 L1021.7 884.3" stroke-width="2.0" stroke="#bcc0cd"/>
<path d="M969.6 909.9 L1021.7 909.9" stroke-width="2.0" stroke="#bcc0cd"/>
<path d="M969.6 935.2 L1021.7 935.2"/>
<path d="M997.2 858.2 L997.2 883.2" stroke-width="2.0" stroke="#bcc0cd"/>
<path d="M997.2 911 L997.2 935.2" stroke-width="2.0" stroke="#bcc0cd"/>
<path d="M982.3 817.5 L982.3 953.3" stroke-width="2.4" stroke="#c8ccd8"/>
<ellipse cx="982.3" cy="953.8" rx="2.4" ry="1.5" fill="#e8ebf3"/>
<ellipse cx="982.3" cy="817.2" rx="2.6" ry="1.4" fill="#e8ebf3"/>
<path d="M1008.9 817.5 L1008.9 953.3" stroke-width="2.4" stroke="#c8ccd8"/>
<ellipse cx="1008.9" cy="953.8" rx="2.4" ry="1.5" fill="#e8ebf3"/>
<ellipse cx="1008.9" cy="817.2" rx="2.6" ry="1.4" fill="#e8ebf3"/>
<path d="M995.9 817.5 L995.9 853.8" stroke-width="1.8" stroke="#c8ccd8"/>
<path d="M995 854.6 L999.7 854.6" stroke-width="1.4"/>
<ellipse cx="995.9" cy="817.2" rx="2.2" ry="1.4" fill="#e8ebf3"/>
<path d="M957.2 936 L1091.3 936 L1091.3 962.3 L957.2 962.3Z" stroke-width="1.0"/>
<path d="M1087.7 938.2h.01M1054.3 948.8h.01M1082.9 946.9h.01M1079.9 940.8h.01M1089.9 947.1h.01M982.3 945.4h.01M1041.7 937.7h.01M1009.4 937.1h.01M967.3 941.1h.01M988.6 943.6h.01M1061.2 947.1h.01M1071.7 959.1h.01M1076.7 960.3h.01M1034.4 953.5h.01M1074.9 950.3h.01M976.9 949.7h.01M1028.3 941.3h.01M970.4 941.4h.01M1050.5 957h.01M1045.1 947.4h.01M961.8 936.9h.01M1044.9 950h.01M1018.6 941.1h.01M974.4 941.3h.01M975.1 951.7h.01M998.8 950.6h.01M1015 950.4h.01M1056.7 956.2h.01M977.9 960.6h.01M1071.1 957.2h.01M1018.1 960.4h.01M1065.8 942.8h.01M1049.1 957.9h.01M1057.9 959.1h.01M1028.2 953.5h.01M968.1 953.3h.01M977.5 954.8h.01M1077.7 946h.01M967.4 937.9h.01M1026.6 940.7h.01M1056 951.9h.01M1024.4 953.5h.01M978.1 948.2h.01M964.2 950.4h.01M1063.2 940.7h.01M1049.3 961.5h.01M1001 942h.01M991.5 957.5h.01M968.7 956.1h.01M992.7 955.6h.01M1075.6 957.8h.01M983.5 950.4h.01M1000.1 958.5h.01M997.2 941h.01M1011.9 939h.01M987.6 954.3h.01M1001.4 941.4h.01M1082 943.3h.01M1063.5 953.8h.01M1031.8 952.9h.01" stroke-width="1.8" stroke-linecap="round"/>
<path d="M1091.3 906.6 L1022.4 906.6 L1022.4 919.1 L1091.3 919.1"/>
<path d="M1045.5 909.4h.01M1067.3 908.6h.01M1059.7 911.7h.01M1027.8 913.2h.01M1026.4 912.4h.01M1028.6 908.8h.01M1052.2 916.5h.01M1032.2 910.2h.01M1065.8 917.8h.01M1062.4 912h.01" stroke-width="1.2" stroke-linecap="round"/>
<path d="M1022.4 919.8 L1091.3 919.8 L1091.3 935.2 L1022.4 935.2Z" fill="url(#stip)" stroke-width="0.6"/>
<ellipse cx="1027.2" cy="923.7" rx="4" ry="3.1" fill="#24283e" stroke-width="0.7"/>
<ellipse cx="1037.1" cy="923.7" rx="4.3" ry="3.1" fill="#24283e" stroke-width="0.7"/>
<ellipse cx="1047.3" cy="923.7" rx="4.4" ry="3.1" fill="#24283e" stroke-width="0.7"/>
<ellipse cx="1056.6" cy="923.7" rx="3.5" ry="3.1" fill="#24283e" stroke-width="0.7"/>
<ellipse cx="1064.6" cy="923.7" rx="3.3" ry="3.1" fill="#24283e" stroke-width="0.7"/>
<ellipse cx="1073" cy="923.7" rx="3.9" ry="3.1" fill="#24283e" stroke-width="0.7"/>
<ellipse cx="1082" cy="923.7" rx="3.7" ry="3.1" fill="#24283e" stroke-width="0.7"/>
<ellipse cx="1088.8" cy="923.7" rx="2.1" ry="3.1" fill="#24283e" stroke-width="0.7"/>
<ellipse cx="1032.2" cy="931.4" rx="4.4" ry="3.1" fill="#24283e" stroke-width="0.7"/>
<ellipse cx="1042.4" cy="931.4" rx="4.3" ry="3.1" fill="#24283e" stroke-width="0.7"/>
<ellipse cx="1052.3" cy="931.4" rx="4.2" ry="3.1" fill="#24283e" stroke-width="0.7"/>
<ellipse cx="1062.4" cy="931.4" rx="4.4" ry="3.1" fill="#24283e" stroke-width="0.7"/>
<ellipse cx="1071.6" cy="931.4" rx="3.5" ry="3.1" fill="#24283e" stroke-width="0.7"/>
<ellipse cx="1080.5" cy="931.4" rx="4" ry="3.1" fill="#24283e" stroke-width="0.7"/>
<ellipse cx="1088.3" cy="931.4" rx="2.6" ry="3.1" fill="#24283e" stroke-width="0.7"/>
<path d="M1091.3 881.7 L1091.3 971.1"/>
<path d="M930.1 908.1 L968.9 908.1"/>
<path d="M930.4 909.5 L939.4 909.5" stroke-width="0.85"/>
<path d="M930.4 912.1 L939.4 912.1" stroke-width="0.85"/>
<path d="M930.4 914.7 L939.4 914.7" stroke-width="0.85"/>
<path d="M941.5 908.4 L941.5 915.8" stroke-width="0.85"/>
<path d="M944.6 908.4 L944.6 915.8" stroke-width="0.85"/>
<path d="M947.7 908.4 L947.7 915.8" stroke-width="0.85"/>
<path d="M949.9 909.5 L958.8 909.5" stroke-width="0.85"/>
<path d="M949.9 912.1 L958.8 912.1" stroke-width="0.85"/>
<path d="M949.9 914.7 L958.8 914.7" stroke-width="0.85"/>
<path d="M960.9 908.4 L960.9 915.8" stroke-width="0.85"/>
<path d="M964.1 908.4 L964.1 915.8" stroke-width="0.85"/>
<path d="M967.2 908.4 L967.2 915.8" stroke-width="0.85"/>
<path d="M931.8 916.5 L931.8 923.9" stroke-width="0.85"/>
<path d="M934.9 916.5 L934.9 923.9" stroke-width="0.85"/>
<path d="M938 916.5 L938 923.9" stroke-width="0.85"/>
<path d="M940.2 917.6 L949.1 917.6" stroke-width="0.85"/>
<path d="M940.2 920.2 L949.1 920.2" stroke-width="0.85"/>
<path d="M940.2 922.8 L949.1 922.8" stroke-width="0.85"/>
<path d="M951.2 916.5 L951.2 923.9" stroke-width="0.85"/>
<path d="M954.3 916.5 L954.3 923.9" stroke-width="0.85"/>
<path d="M957.5 916.5 L957.5 923.9" stroke-width="0.85"/>
<path d="M959.6 917.6 L968.5 917.6" stroke-width="0.85"/>
<path d="M959.6 920.2 L968.5 920.2" stroke-width="0.85"/>
<path d="M959.6 922.8 L968.5 922.8" stroke-width="0.85"/>
<path d="M970.1 768.8 L970.1 804 L973.3 804" stroke-width="0.8"/>
<path d="M980.4 768.8 L980.4 804 L984.3 816.5" stroke-width="0.8"/>
<path d="M973.3 768.8 L973.3 828.2" stroke-width="0.6"/>
<path d="M970.4 770.3 L980.4 770.3" stroke-width="0.6"/>
<path d="M970.4 772.2 L980.4 772.2" stroke-width="0.6"/>
<path d="M970.4 774.1 L980.4 774.1" stroke-width="0.6"/>
<path d="M970.4 776 L980.4 776" stroke-width="0.6"/>
<path d="M970.4 777.9 L980.4 777.9" stroke-width="0.6"/>
<path d="M970.4 779.8 L980.4 779.8" stroke-width="0.6"/>
<path d="M970.4 781.7 L980.4 781.7" stroke-width="0.6"/>
<path d="M970.4 783.6 L980.4 783.6" stroke-width="0.6"/>
<path d="M970.4 785.5 L980.4 785.5" stroke-width="0.6"/>
<path d="M970.4 787.4 L980.4 787.4" stroke-width="0.6"/>
<path d="M970.4 789.3 L980.4 789.3" stroke-width="0.6"/>
<path d="M970.4 791.2 L980.4 791.2" stroke-width="0.6"/>
<path d="M970.4 793.1 L980.4 793.1" stroke-width="0.6"/>
<path d="M970.4 795 L980.4 795" stroke-width="0.6"/>
<path d="M970.4 797 L980.4 797" stroke-width="0.6"/>
<path d="M970.4 798.9 L980.4 798.9" stroke-width="0.6"/>
<path d="M970.4 800.8 L980.4 800.8" stroke-width="0.6"/>
<path d="M970.4 802.7 L980.4 802.7" stroke-width="0.6"/>
<path d="M1021.4 768.8 L1021.4 804" stroke-width="0.8"/>
<path d="M1010.7 768.8 L1010.7 804 L1006.3 816.5" stroke-width="0.8"/>
<path d="M1010.7 770.3 L1021.4 770.3" stroke-width="0.6"/>
<path d="M1010.7 772.2 L1021.4 772.2" stroke-width="0.6"/>
<path d="M1010.7 774.1 L1021.4 774.1" stroke-width="0.6"/>
<path d="M1010.7 776 L1021.4 776" stroke-width="0.6"/>
<path d="M1010.7 777.9 L1021.4 777.9" stroke-width="0.6"/>
<path d="M1010.7 779.8 L1021.4 779.8" stroke-width="0.6"/>
<path d="M1010.7 781.7 L1021.4 781.7" stroke-width="0.6"/>
<path d="M1010.7 783.6 L1021.4 783.6" stroke-width="0.6"/>
<path d="M1010.7 785.5 L1021.4 785.5" stroke-width="0.6"/>
<path d="M1010.7 787.4 L1021.4 787.4" stroke-width="0.6"/>
<path d="M1010.7 789.3 L1021.4 789.3" stroke-width="0.6"/>
<path d="M1010.7 791.2 L1021.4 791.2" stroke-width="0.6"/>
<path d="M1010.7 793.1 L1021.4 793.1" stroke-width="0.6"/>
<path d="M1010.7 795 L1021.4 795" stroke-width="0.6"/>
<path d="M1010.7 797 L1021.4 797" stroke-width="0.6"/>
<path d="M1010.7 798.9 L1021.4 798.9" stroke-width="0.6"/>
<path d="M1010.7 800.8 L1021.4 800.8" stroke-width="0.6"/>
<path d="M1010.7 802.7 L1021.4 802.7" stroke-width="0.6"/>
<path d="M1113.3 830.4 L1113.3 938.2" stroke-width="0.8"/>
<path d="M1110.1 829.7L1116.5 836.1" stroke-width="0.9"/>
<path d="M1110.1 932.8L1116.5 939.2" stroke-width="0.9"/>
<path d="M1034.9 832.9 L1115.5 832.9" stroke-width="0.8"/>
<path d="M1092.1 936 L1115.5 936" stroke-width="0.8"/>
<text transform="translate(1111.6 884.6) rotate(-90) scale(0.830 1)" font-size="7.8" text-anchor="middle">48" MAX</text>
<text transform="translate(1049.6 848) scale(0.950 1)" font-size="7.8">GARAGE</text>
<text transform="translate(1049.6 856.9) scale(0.950 1)" font-size="7.8">SLAB OVER</text>
<text transform="translate(1049.6 865.9) scale(0.950 1)" font-size="7.8">GRAVEL AS</text>
<text transform="translate(1049.6 874.8) scale(0.950 1)" font-size="7.8">SPECIFIED</text>
<path d="M1047.4 852.7 L1034.2 852.7 L1040.8 905.2" stroke-width="0.8"/>
<path d="M1040.8 905.2L1041 900.1L1039.2 900.3Z" fill="#e8ebf3" stroke-width="0.4"/>
<text transform="translate(1100 955) scale(0.850 1)" font-size="5.9">MIN. FTG WIDTH UNDER</text>
<text transform="translate(1100 962) scale(0.850 1)" font-size="5.9">OPENING: 12"</text>
<path d="M1097.9 956.5 L1062.8 949.1" stroke-width="0.8"/>
<path d="M1062.8 949.1L1067.5 951.1L1067.8 949.3Z" fill="#e8ebf3" stroke-width="0.4"/>
<path d="M982.3 977 L1076.9 977 L1076.9 995.4 L982.3 995.4Z"/>
<text transform="translate(1022.6 989.5) scale(0.930 1)" font-size="8.8" text-anchor="middle">INTERIOR VIEW</text>
<path d="M1219.2 977 L1313.4 977 L1313.4 995.4 L1219.2 995.4Z"/>
<text transform="translate(1260.3 989.5) scale(0.930 1)" font-size="8.8" text-anchor="middle">EXTERIOR VIEW</text>
<text transform="translate(816.5 545.7) scale(0.980 1)" font-size="7.4">(2) ROWS OF 16d</text>
<text transform="translate(816.5 554.7) scale(0.980 1)" font-size="7.4">SINKER NAILS</text>
<text transform="translate(816.5 563.6) scale(0.980 1)" font-size="7.4">AT 3" OC.</text>
<path d="M886.2 543.2 L935.7 543.2 L988.9 576.9" stroke-width="0.8"/>
<text transform="translate(816.5 614) scale(0.980 1)" font-size="7.4">(2) SIMPSON CS16 STRAP</text>
<text transform="translate(816.5 622.9) scale(0.980 1)" font-size="7.4">WITH 8d NAILS. (EXTEND</text>
<text transform="translate(816.5 631.9) scale(0.980 1)" font-size="7.4">TO WALL TOP PLATE AND</text>
<text transform="translate(816.5 640.9) scale(0.980 1)" font-size="7.4">EXTEND 20" UNDER</text>
<text transform="translate(816.5 649.9) scale(0.980 1)" font-size="7.4">HEADER).</text>
<path d="M913.7 611.8 L926.5 611.8 L1010.9 596.4" stroke-width="0.8"/>
<path d="M1010.9 596.4L1005.8 596.4L1006.1 598.1Z" fill="#e8ebf3" stroke-width="0.4"/>
<text transform="translate(816.5 677) scale(0.980 1)" font-size="7.4">MIN (2)2X WALL FRAMING.</text>
<text transform="translate(816.5 686) scale(0.980 1)" font-size="7.4">SEE PLAN FOR STUD</text>
<text transform="translate(816.5 695) scale(0.980 1)" font-size="7.4">COLUMN REQUIREMENTS.</text>
<path d="M911.9 683.3 L944.9 683.3" stroke-width="0.8"/>
<path d="M944.9 683.3 L968.7 715.6" stroke-width="0.8"/>
<path d="M968.7 715.6L966.5 711L965 712.1Z" fill="#e8ebf3" stroke-width="0.4"/>
<path d="M944.9 683.3 L1009.8 732.1" stroke-width="0.8"/>
<path d="M1009.8 732.1L1006.3 728.3L1005.2 729.8Z" fill="#e8ebf3" stroke-width="0.4"/>
<text transform="translate(816.5 721.8) scale(0.980 1)" font-size="7.4">⅝" DIAM. ANCHOR BOLT</text>
<text transform="translate(816.5 730.8) scale(0.980 1)" font-size="7.4">(7" EMBEDMENT) WITH</text>
<text transform="translate(816.5 739.8) scale(0.980 1)" font-size="7.4">2"x2"x3⁄16" PLATE WASHER.</text>
<path d="M913.7 729.1 L998 729.1 L998 815.7" stroke-width="0.8"/>
<path d="M998 815.7L998.9 810.7L997.1 810.7Z" fill="#e8ebf3" stroke-width="0.4"/>
<text transform="translate(816.5 760.3) scale(0.980 1)" font-size="7.4">(2) 2x PLATES</text>
<path d="M886.2 757.7 L989.6 757.7 L989.6 815.7" stroke-width="0.8"/>
<path d="M989.6 815.7L990.5 810.7L988.7 810.7Z" fill="#e8ebf3" stroke-width="0.4"/>
<text transform="translate(816.5 783.4) scale(0.980 1)" font-size="6.1">PLATE (TRT)</text>
<path d="M860.5 781.6 L941.2 781.6 L972.4 820.1" stroke-width="0.8"/>
<text transform="translate(817.6 799.2) scale(0.980 1)" font-size="7.4">8" BOND BEAM</text>
<text transform="translate(817.6 808.2) scale(0.980 1)" font-size="7.4">WITH (1) #4 BAR.</text>
<path d="M878.9 804.7 L939.4 804.7 L974.2 847.6" stroke-width="0.8"/>
<text transform="translate(817.6 834) scale(0.980 1)" font-size="7.4">8" (MIN.) CMU</text>
<path d="M877 831.1 L922.9 831.1 L968.7 867.8" stroke-width="0.8"/>
<text transform="translate(816.5 856.7) scale(0.980 1)" font-size="7.4">⅝" THREADED ROD WITH</text>
<text transform="translate(816.5 865.6) scale(0.980 1)" font-size="7.4">⅜" x 1½" x 1½" PLATE</text>
<text transform="translate(816.5 874.4) scale(0.980 1)" font-size="7.4">WASHERS AND NUTS OR</text>
<text transform="translate(816.5 883.2) scale(0.980 1)" font-size="7.4">SIMPSON "SET OR</text>
<text transform="translate(816.5 892) scale(0.980 1)" font-size="7.4">SET-XP" EPOXY.  7" MIN.</text>
<text transform="translate(816.5 900.8) scale(0.980 1)" font-size="7.4">EMBEDMENT INTO FTG.</text>
<path d="M915.5 864.1 L935.7 864.1 L981.5 893.4" stroke-width="0.8"/>
<text transform="translate(817.6 934.5) scale(0.980 1)" font-size="7.4">MIN 10" DEEP</text>
<text transform="translate(817.6 943.3) scale(0.980 1)" font-size="7.4">CONCRETE FOOTING</text>
<text transform="translate(817.6 952.1) scale(0.980 1)" font-size="7.4">(SEE PLANS FOR</text>
<text transform="translate(817.6 960.9) scale(0.980 1)" font-size="7.4">WIDTH)</text>
<path d="M893.5 934.5 L915.5 934.5 L955.9 951.4" stroke-width="0.8"/>
<text transform="translate(816.5 978.5) scale(0.980 1)" font-size="7.4">3" CONC. COVER AT</text>
<text transform="translate(816.5 987.3) scale(0.980 1)" font-size="7.4">BOTTOM AND 6" MIN</text>
<text transform="translate(816.5 996.1) scale(0.980 1)" font-size="7.4">CONC. COVER ON</text>
<text transform="translate(816.5 1004.9) scale(0.980 1)" font-size="7.4">SIDES OF ANCHOR.</text>
<text transform="translate(816.5 1013.7) scale(0.980 1)" font-size="7.4">(TYP)</text>
<path d="M904.5 985.1 L939.4 985.1 L982.3 955.8" stroke-width="0.8"/>
<text transform="translate(1085.3 558.2) scale(0.950 1)" font-size="6.8">NOTE: AT INTERMEDIATE WALL</text>
<text transform="translate(1085.3 566.3) scale(0.950 1)" font-size="6.8">SEGMENTS BETWEEN OPENINGS, THE</text>
<text transform="translate(1085.3 574.4) scale(0.950 1)" font-size="6.8">STRAPS SHALL BE INSTALLED AT</text>
<text transform="translate(1085.3 582.4) scale(0.950 1)" font-size="6.8">THE STUD COLUMN ON EACH END</text>
<text transform="translate(1085.3 590.5) scale(0.950 1)" font-size="6.8">OF THE WALL SEGMENT.</text>
<path d="M1082.4 567.8 L1053.1 567.8 L1021.9 578" stroke-width="0.8"/>
<path d="M1021.9 578L1026.9 577.3L1026.4 575.6Z" fill="#e8ebf3" stroke-width="0.4"/>
<text transform="translate(1074.3 612.1) scale(0.950 1)" font-size="6.8">MIN. 3"x11.25" HEADER. SEE PLAN</text>
<text transform="translate(1074.3 620.2) scale(0.950 1)" font-size="6.8">FOR ACTUAL SIZE. EXTEND</text>
<text transform="translate(1074.3 628.3) scale(0.950 1)" font-size="6.8">OVER PANEL.</text>
<path d="M1073.2 621.3 L1062.2 621.3 L1047.6 584.6" stroke-width="0.8"/>
<text transform="translate(1074.3 645.9) scale(0.950 1)" font-size="6.8">FASTEN SHEATHING TO HEADER</text>
<text transform="translate(1074.3 653.9) scale(0.950 1)" font-size="6.8">W/ 8d COMMON NAILS IN 3" GRID</text>
<text transform="translate(1074.3 662) scale(0.950 1)" font-size="6.8">PATTERN AND 3" O.C. IN ALL</text>
<text transform="translate(1074.3 670.1) scale(0.950 1)" font-size="6.8">FRAMING (STUDS, BLOCKING, AND</text>
<text transform="translate(1074.3 678.1) scale(0.950 1)" font-size="6.8">SILLS) TYP.</text>
<path d="M1188.8 670.4 L1201.6 670.4 L1238.3 579.9" stroke-width="0.8"/>
<text transform="translate(1074.3 700.9) scale(0.950 1)" font-size="6.8">PANEL EDGES SHALL BE</text>
<text transform="translate(1074.3 708.9) scale(0.950 1)" font-size="6.8">BLOCKED AND OCCUR WITHIN 24"</text>
<text transform="translate(1074.3 717) scale(0.950 1)" font-size="6.8">OF MID-HEIGHT.  ONE ROW OF</text>
<text transform="translate(1074.3 725.1) scale(0.950 1)" font-size="6.8">TYP. SHEATHING-TO-FRAMING</text>
<text transform="translate(1074.3 733.2) scale(0.950 1)" font-size="6.8">NAILING IS REQ'D (3" OC).</text>
<text transform="translate(1074.3 741.2) scale(0.950 1)" font-size="6.8">ATTACH BLOCKING TOGETHER W/</text>
<text transform="translate(1074.3 749.3) scale(0.950 1)" font-size="6.8">(3) 16d SINKERS.</text>
<path d="M1179.6 727.7 L1210.8 727.7" stroke-width="0.8"/>
<text transform="translate(1074.3 779.7) scale(0.950 1)" font-size="6.8">3,500 LB HOLDOWN (SIMPSON</text>
<text transform="translate(1074.3 787.8) scale(0.950 1)" font-size="6.8">HTT4 HOLDOWN W/ 18-16dx2-1/2"</text>
<text transform="translate(1074.3 795.9) scale(0.950 1)" font-size="6.8">NAILS OR EQUAL.)</text>
<path d="M1072.3 784.9 L1034.2 784.9 L1011.4 810.6" stroke-width="0.8"/>
<path d="M1210.4 507.3 L1210.4 828.2" stroke-width="1.0"/>
<path d="M1215.1 507.3 L1215.1 828.2" stroke-width="0.7"/>
<path d="M1219.9 517.3 L1219.9 828.2" stroke-width="0.7"/>
<path d="M1252.6 517.3 L1252.6 828.2" stroke-width="0.7"/>
<path d="M1257.3 507.3 L1257.3 828.2" stroke-width="0.7"/>
<path d="M1262 507.3 L1262 553.5" stroke-width="0.8"/>
<path d="M1262 582.8 L1262 828.2" stroke-width="1.0"/>
<path d="M1262 553.5 L1262 582.8" stroke-width="0.7"/>
<path d="M1210.4 507.3 L1316 507.3" stroke-width="0.8"/>
<path d="M1210.4 512.5 L1316 512.5" stroke-width="0.8"/>
<path d="M1210.4 517.3 L1316 517.3" stroke-width="0.8"/>
<path d="M1210.4 548.4 L1321.8 548.4" stroke-width="0.8"/>
<path d="M1210.4 553.5 L1321.8 553.5" stroke-width="0.8"/>
<path d="M1210.4 582.8 L1321.8 582.8" stroke-width="0.8"/>
<path d="M1215.1 588 L1262 588" stroke-width="0.7"/>
<path d="M1309.4 517.3 L1309.4 548.4" stroke-width="0.8"/>
<path d="M1313.8 517.3 L1313.8 548.4" stroke-width="0.8"/>
<path d="M1219.9 701.6 L1252.6 701.6" stroke-width="0.7"/>
<path d="M1219.9 705.3 L1252.6 705.3" stroke-width="0.7"/>
<path d="M1219.9 711.1 L1252.6 711.1" stroke-width="0.7"/>
<path d="M1212.9 510.3h.01M1212.9 519.4h.01M1212.9 528.4h.01M1212.9 537.5h.01M1212.9 546.6h.01M1212.9 555.7h.01M1212.9 564.8h.01M1212.9 573.9h.01M1212.9 583h.01M1212.9 592.1h.01M1212.9 601.2h.01M1212.9 610.3h.01M1212.9 619.4h.01M1212.9 628.4h.01M1212.9 637.5h.01M1212.9 646.6h.01M1212.9 655.7h.01M1212.9 664.8h.01M1212.9 673.9h.01M1212.9 683h.01M1212.9 692.1h.01M1212.9 701.2h.01M1212.9 710.3h.01M1212.9 719.4h.01M1212.9 728.4h.01M1212.9 737.5h.01M1212.9 746.6h.01M1212.9 755.7h.01M1212.9 764.8h.01M1212.9 773.9h.01M1212.9 783h.01M1212.9 792.1h.01M1212.9 801.2h.01M1212.9 810.3h.01M1212.9 819.4h.01" stroke-width="1.3" stroke-linecap="round"/>
<path d="M1217.7 510.3h.01M1217.7 519.4h.01M1217.7 528.4h.01M1217.7 537.5h.01M1217.7 546.6h.01M1217.7 555.7h.01M1217.7 564.8h.01M1217.7 573.9h.01M1217.7 583h.01M1217.7 592.1h.01M1217.7 601.2h.01M1217.7 610.3h.01M1217.7 619.4h.01M1217.7 628.4h.01M1217.7 637.5h.01M1217.7 646.6h.01M1217.7 655.7h.01M1217.7 664.8h.01M1217.7 673.9h.01M1217.7 683h.01M1217.7 692.1h.01M1217.7 701.2h.01M1217.7 710.3h.01M1217.7 719.4h.01M1217.7 728.4h.01M1217.7 737.5h.01M1217.7 746.6h.01M1217.7 755.7h.01M1217.7 764.8h.01M1217.7 773.9h.01M1217.7 783h.01M1217.7 792.1h.01M1217.7 801.2h.01M1217.7 810.3h.01M1217.7 819.4h.01" stroke-width="1.3" stroke-linecap="round"/>
<path d="M1255.1 510.3h.01M1255.1 519.4h.01M1255.1 528.4h.01M1255.1 537.5h.01M1255.1 546.6h.01M1255.1 555.7h.01M1255.1 564.8h.01M1255.1 573.9h.01M1255.1 583h.01M1255.1 592.1h.01M1255.1 601.2h.01M1255.1 610.3h.01M1255.1 619.4h.01M1255.1 628.4h.01M1255.1 637.5h.01M1255.1 646.6h.01M1255.1 655.7h.01M1255.1 664.8h.01M1255.1 673.9h.01M1255.1 683h.01M1255.1 692.1h.01M1255.1 701.2h.01M1255.1 710.3h.01M1255.1 719.4h.01M1255.1 728.4h.01M1255.1 737.5h.01M1255.1 746.6h.01M1255.1 755.7h.01M1255.1 764.8h.01M1255.1 773.9h.01M1255.1 783h.01M1255.1 792.1h.01M1255.1 801.2h.01M1255.1 810.3h.01M1255.1 819.4h.01" stroke-width="1.3" stroke-linecap="round"/>
<path d="M1259.8 510.3h.01M1259.8 519.4h.01M1259.8 528.4h.01M1259.8 537.5h.01M1259.8 546.6h.01M1259.8 555.7h.01M1259.8 564.8h.01M1259.8 573.9h.01M1259.8 583h.01M1259.8 592.1h.01M1259.8 601.2h.01M1259.8 610.3h.01M1259.8 619.4h.01M1259.8 628.4h.01M1259.8 637.5h.01M1259.8 646.6h.01M1259.8 655.7h.01M1259.8 664.8h.01M1259.8 673.9h.01M1259.8 683h.01M1259.8 692.1h.01M1259.8 701.2h.01M1259.8 710.3h.01M1259.8 719.4h.01M1259.8 728.4h.01M1259.8 737.5h.01M1259.8 746.6h.01M1259.8 755.7h.01M1259.8 764.8h.01M1259.8 773.9h.01M1259.8 783h.01M1259.8 792.1h.01M1259.8 801.2h.01M1259.8 810.3h.01M1259.8 819.4h.01" stroke-width="1.3" stroke-linecap="round"/>
<path d="M1219.9 510h.01M1229.6 510h.01M1239.3 510h.01M1248.9 510h.01M1258.6 510h.01" stroke-width="1" stroke-linecap="round"/>
<path d="M1219.9 514.7h.01M1229.6 514.7h.01M1239.3 514.7h.01M1248.9 514.7h.01M1258.6 514.7h.01" stroke-width="1" stroke-linecap="round"/>
<path d="M1217.7 551h.01M1227.4 551h.01M1237.1 551h.01M1246.7 551h.01M1256.4 551h.01" stroke-width="1" stroke-linecap="round"/>
<path d="M1217.7 585.5h.01M1227.4 585.5h.01M1237.1 585.5h.01M1246.7 585.5h.01M1256.4 585.5h.01" stroke-width="1" stroke-linecap="round"/>
<path d="M1222.1 556.5h.01M1231.8 556.5h.01M1241.5 556.5h.01M1251.1 556.5h.01M1260.8 556.5h.01" stroke-width="1" stroke-linecap="round"/>
<path d="M1222.1 563.8h.01M1231.8 563.8h.01M1241.5 563.8h.01M1251.1 563.8h.01M1260.8 563.8h.01" stroke-width="1" stroke-linecap="round"/>
<path d="M1222.1 571.8h.01M1231.8 571.8h.01M1241.5 571.8h.01M1251.1 571.8h.01M1260.8 571.8h.01" stroke-width="1" stroke-linecap="round"/>
<path d="M1222.1 579.9h.01M1231.8 579.9h.01M1241.5 579.9h.01M1251.1 579.9h.01M1260.8 579.9h.01" stroke-width="1" stroke-linecap="round"/>
<path d="M1211.3 520.4 L1216.9 514.7" stroke-width="0.8"/>
<path d="M1218 513.6 L1224.1 507.5" stroke-width="0.8"/>
<path d="M1216.3 529.3 L1225.4 520.1" stroke-width="0.8"/>
<path d="M1227.7 517.9 L1237.3 508.3" stroke-width="0.8"/>
<path d="M1212.6 546.9 L1226.3 533.2" stroke-width="0.8"/>
<path d="M1229.6 529.9 L1248 511.5" stroke-width="0.8"/>
<path d="M1226.4 547.1 L1242 531.5" stroke-width="0.8"/>
<path d="M1245.3 528.2 L1259.3 514.1" stroke-width="0.8"/>
<path d="M1242 545.4 L1257 530.4" stroke-width="0.8"/>
<path d="M1260.3 527.1 L1279.5 507.9" stroke-width="0.8"/>
<path d="M1259.1 542.1 L1271.6 529.7" stroke-width="0.8"/>
<path d="M1274.8 526.5 L1289.4 511.9" stroke-width="0.8"/>
<path d="M1268.3 546.9 L1286 529.2" stroke-width="0.8"/>
<path d="M1289.3 525.9 L1307.9 507.3" stroke-width="0.8"/>
<path d="M1287.9 541.3 L1302.8 526.4" stroke-width="0.8"/>
<path d="M1305.6 523.6 L1316 513.2" stroke-width="0.8"/>
<path d="M1299.7 543.3 L1308.6 534.4" stroke-width="0.8"/>
<path d="M1310.3 532.7 L1316 527.1" stroke-width="0.8"/>
<path d="M1310.2 546.8 L1312.9 544.1" stroke-width="0.8"/>
<path d="M1313.5 543.5 L1316 541.1" stroke-width="0.8"/>
<path d="M1210.8 567.1 L1216.4 561.4" stroke-width="0.8"/>
<path d="M1217.5 560.3 L1223.5 554.3" stroke-width="0.8"/>
<path d="M1216.9 574.8 L1226.4 565.3" stroke-width="0.8"/>
<path d="M1228.7 563.1 L1238.2 553.5" stroke-width="0.8"/>
<path d="M1228.2 577.5 L1239.9 565.8" stroke-width="0.8"/>
<path d="M1242.3 563.4 L1252.2 553.5" stroke-width="0.8"/>
<path d="M1241.8 577.8 L1252.3 567.3" stroke-width="0.8"/>
<path d="M1254.7 564.9 L1266.1 553.5" stroke-width="0.8"/>
<path d="M1251.6 582 L1261.4 572.2" stroke-width="0.8"/>
<path d="M1263.7 569.9 L1277.8 555.8" stroke-width="0.8"/>
<path d="M1267.3 580.2 L1277.2 570.3" stroke-width="0.8"/>
<path d="M1279.5 567.9 L1293.1 554.4" stroke-width="0.8"/>
<path d="M1283.2 578.2 L1292.7 568.8" stroke-width="0.8"/>
<path d="M1295 566.4 L1307 554.4" stroke-width="0.8"/>
<path d="M1297.4 578 L1306.9 568.5" stroke-width="0.8"/>
<path d="M1309.2 566.1 L1321.8 553.5" stroke-width="0.8"/>
<path d="M1306.9 582.4 L1312.3 577" stroke-width="0.8"/>
<path d="M1313.5 575.7 L1318.4 570.9" stroke-width="0.8"/>
<path d="M1214.3 596.5 L1219.1 591.7" stroke-width="0.8"/>
<path d="M1220.4 590.4 L1226.5 584.3" stroke-width="0.8"/>
<path d="M1211.7 615.3 L1226.1 600.8" stroke-width="0.8"/>
<path d="M1228.7 598.3 L1238.5 588.5" stroke-width="0.8"/>
<path d="M1221 622.1 L1240.5 602.6" stroke-width="0.8"/>
<path d="M1244.4 598.7 L1258.8 584.3" stroke-width="0.8"/>
<path d="M1223.3 635.9 L1240.6 618.6" stroke-width="0.8"/>
<path d="M1244.8 614.5 L1262 597.2" stroke-width="0.8"/>
<path d="M1219.5 655.8 L1237.2 638.2" stroke-width="0.8"/>
<path d="M1241.3 634 L1259.5 615.8" stroke-width="0.8"/>
<path d="M1213.3 678.1 L1235.5 656" stroke-width="0.8"/>
<path d="M1239.6 651.9 L1262 629.5" stroke-width="0.8"/>
<path d="M1220.7 686.9 L1237.9 669.7" stroke-width="0.8"/>
<path d="M1242 665.6 L1262 645.6" stroke-width="0.8"/>
<path d="M1217 706.7 L1234.3 689.5" stroke-width="0.8"/>
<path d="M1238.4 685.3 L1258.6 665.2" stroke-width="0.8"/>
<path d="M1215.8 724.1 L1231.9 708" stroke-width="0.8"/>
<path d="M1236 703.8 L1257.3 682.5" stroke-width="0.8"/>
<path d="M1215 741 L1234.9 721.1" stroke-width="0.8"/>
<path d="M1239 716.9 L1262 694" stroke-width="0.8"/>
<path d="M1218.7 753.4 L1237.3 734.8" stroke-width="0.8"/>
<path d="M1241.5 730.7 L1262 710.1" stroke-width="0.8"/>
<path d="M1223.2 765 L1242.5 745.7" stroke-width="0.8"/>
<path d="M1246.6 741.6 L1262 726.2" stroke-width="0.8"/>
<path d="M1210.6 793.7 L1227.2 777.2" stroke-width="0.8"/>
<path d="M1231.3 773 L1248.6 755.8" stroke-width="0.8"/>
<path d="M1222.5 798 L1243.3 777.2" stroke-width="0.8"/>
<path d="M1247.4 773.1 L1262 758.5" stroke-width="0.8"/>
<path d="M1214.1 822.5 L1233.4 803.2" stroke-width="0.8"/>
<path d="M1237.5 799.1 L1262 774.6" stroke-width="0.8"/>
<path d="M1225.5 827.2 L1237.4 815.4" stroke-width="0.8"/>
<path d="M1240.4 812.4 L1252 800.8" stroke-width="0.8"/>
<path d="M1243.2 825.7 L1252.3 816.6" stroke-width="0.8"/>
<path d="M1254 814.9 L1262 806.9" stroke-width="0.8"/>
<path d="M1257.4 827.7 L1259.3 825.7" stroke-width="0.8"/>
<path d="M1259.7 825.3 L1261.4 823.6" stroke-width="0.8"/>
<path d="M1262 619.1 L1321.1 619.1" stroke-width="0.8"/>
<path d="M1321.1 619.1L1315.1 618L1315.1 620.1Z" fill="#e8ebf3" stroke-width="0.4"/>
<text transform="translate(1274.2 617.3) scale(1.051 1)" font-size="7.4">6' TO 18'</text>
<path d="M1220.9 817.9 L1253.2 817.9" stroke-width="0.8"/>
<path d="M1210.6 823.8 L1262.7 823.8" stroke-width="0.8"/>
<path d="M1210.6 828.2 L1262.7 828.2" stroke-width="0.8"/>
<path d="M1210.6 833.3 L1262.7 833.3" stroke-width="0.8"/>
<path d="M1210.6 828.2 L1210.6 935.2"/>
<path d="M1262.7 828.2 L1262.7 935.2"/>
<path d="M1210.6 852.4 L1262.7 852.4" stroke-width="2.0" stroke="#bcc0cd"/>
<path d="M1210.6 857.9 L1262.7 857.9" stroke-width="1.0" stroke="#bcc0cd"/>
<path d="M1210.6 884.3 L1262.7 884.3" stroke-width="2.0" stroke="#bcc0cd"/>
<path d="M1210.6 909.9 L1262.7 909.9" stroke-width="2.0" stroke="#bcc0cd"/>
<path d="M1210.6 935.2 L1262.7 935.2"/>
<path d="M1238.2 858.2 L1238.2 883.2" stroke-width="2.0" stroke="#bcc0cd"/>
<path d="M1238.2 911 L1238.2 935.2" stroke-width="2.0" stroke="#bcc0cd"/>
<path d="M1223.3 817.5 L1223.3 953.3" stroke-width="2.4" stroke="#c8ccd8"/>
<ellipse cx="1223.3" cy="953.8" rx="2.4" ry="1.5" fill="#e8ebf3"/>
<ellipse cx="1223.3" cy="817.2" rx="2.6" ry="1.4" fill="#e8ebf3"/>
<path d="M1249.9 817.5 L1249.9 953.3" stroke-width="2.4" stroke="#c8ccd8"/>
<ellipse cx="1249.9" cy="953.8" rx="2.4" ry="1.5" fill="#e8ebf3"/>
<ellipse cx="1249.9" cy="817.2" rx="2.6" ry="1.4" fill="#e8ebf3"/>
<path d="M1236.9 817.5 L1236.9 853.8" stroke-width="1.8" stroke="#c8ccd8"/>
<path d="M1236 854.6 L1240.7 854.6" stroke-width="1.4"/>
<ellipse cx="1236.9" cy="817.2" rx="2.2" ry="1.4" fill="#e8ebf3"/>
<path d="M1198.2 936 L1332.3 936 L1332.3 962.3 L1198.2 962.3Z" stroke-width="1.0"/>
<path d="M1204.7 951.4h.01M1201.6 949.6h.01M1328.5 944h.01M1328.2 952.6h.01M1316.2 937.3h.01M1296.6 949.6h.01M1279.2 946.2h.01M1328.6 953.1h.01M1295.2 953.8h.01M1271.5 957h.01M1280.8 950.8h.01M1217.5 950.6h.01M1219.5 951.4h.01M1255.6 955.7h.01M1277.2 945.9h.01M1267.7 942.3h.01M1329.2 958h.01M1251.5 942.2h.01M1258.2 952.7h.01M1258.1 960.2h.01M1205.8 945.3h.01M1267.5 938h.01M1260.9 951h.01M1239.3 961.5h.01M1245.4 945.9h.01M1277.9 943.4h.01M1261.5 940.7h.01M1206.5 953.8h.01M1236 940.8h.01M1233.3 947.1h.01M1218.5 954.1h.01M1294.8 960.9h.01M1204.7 944.6h.01M1288.3 957.8h.01M1231.9 958.3h.01M1204.6 950.4h.01M1202.3 940.8h.01M1293.8 947.9h.01M1319.8 960.1h.01M1258.2 950h.01M1249.2 941h.01M1254.5 956.6h.01M1253.7 956.8h.01M1217 939.5h.01M1329 942.6h.01M1218 958.8h.01M1299.2 958.7h.01M1313.6 939.8h.01M1275.2 952.8h.01M1234.2 951.8h.01M1246 944.8h.01M1251.5 950.6h.01M1223.4 955.1h.01M1248 946.7h.01M1254.3 950.9h.01M1326.8 958.8h.01M1267.8 939.9h.01M1208.9 957.9h.01M1200.3 943.5h.01M1266.5 937h.01" stroke-width="1.8" stroke-linecap="round"/>
<path d="M1332.3 906.6 L1263.4 906.6 L1263.4 919.1 L1332.3 919.1"/>
<path d="M1286.5 909.4h.01M1308.3 908.6h.01M1300.7 911.7h.01M1268.8 913.2h.01M1267.4 912.4h.01M1269.6 908.8h.01M1293.2 916.5h.01M1273.2 910.2h.01M1306.8 917.8h.01M1303.4 912h.01" stroke-width="1.2" stroke-linecap="round"/>
<path d="M1263.4 919.8 L1332.3 919.8 L1332.3 935.2 L1263.4 935.2Z" fill="url(#stip)" stroke-width="0.6"/>
<ellipse cx="1267.5" cy="923.7" rx="3.4" ry="3.1" fill="#24283e" stroke-width="0.7"/>
<ellipse cx="1276.7" cy="923.7" rx="4.4" ry="3.1" fill="#24283e" stroke-width="0.7"/>
<ellipse cx="1287" cy="923.7" rx="4.3" ry="3.1" fill="#24283e" stroke-width="0.7"/>
<ellipse cx="1297.8" cy="923.7" rx="4.8" ry="3.1" fill="#24283e" stroke-width="0.7"/>
<ellipse cx="1307.8" cy="923.7" rx="3.7" ry="3.1" fill="#24283e" stroke-width="0.7"/>
<ellipse cx="1316.6" cy="923.7" rx="3.7" ry="3.1" fill="#24283e" stroke-width="0.7"/>
<ellipse cx="1326.2" cy="923.7" rx="4.5" ry="3.1" fill="#24283e" stroke-width="0.7"/>
<ellipse cx="1273.2" cy="931.4" rx="4.3" ry="3.1" fill="#24283e" stroke-width="0.7"/>
<ellipse cx="1282.7" cy="931.4" rx="3.8" ry="3.1" fill="#24283e" stroke-width="0.7"/>
<ellipse cx="1292.3" cy="931.4" rx="4.4" ry="3.1" fill="#24283e" stroke-width="0.7"/>
<ellipse cx="1302.1" cy="931.4" rx="3.9" ry="3.1" fill="#24283e" stroke-width="0.7"/>
<ellipse cx="1312.1" cy="931.4" rx="4.5" ry="3.1" fill="#24283e" stroke-width="0.7"/>
<ellipse cx="1321.5" cy="931.4" rx="3.5" ry="3.1" fill="#24283e" stroke-width="0.7"/>
<ellipse cx="1328.9" cy="931.4" rx="2.9" ry="3.1" fill="#24283e" stroke-width="0.7"/>
<path d="M1332.3 881.7 L1332.3 971.1"/>
<path d="M1171.1 908.1 L1209.9 908.1"/>
<path d="M1171.4 909.5 L1180.4 909.5" stroke-width="0.85"/>
<path d="M1171.4 912.1 L1180.4 912.1" stroke-width="0.85"/>
<path d="M1171.4 914.7 L1180.4 914.7" stroke-width="0.85"/>
<path d="M1182.5 908.4 L1182.5 915.8" stroke-width="0.85"/>
<path d="M1185.6 908.4 L1185.6 915.8" stroke-width="0.85"/>
<path d="M1188.7 908.4 L1188.7 915.8" stroke-width="0.85"/>
<path d="M1190.9 909.5 L1199.8 909.5" stroke-width="0.85"/>
<path d="M1190.9 912.1 L1199.8 912.1" stroke-width="0.85"/>
<path d="M1190.9 914.7 L1199.8 914.7" stroke-width="0.85"/>
<path d="M1201.9 908.4 L1201.9 915.8" stroke-width="0.85"/>
<path d="M1205.1 908.4 L1205.1 915.8" stroke-width="0.85"/>
<path d="M1208.2 908.4 L1208.2 915.8" stroke-width="0.85"/>
<path d="M1172.8 916.5 L1172.8 923.9" stroke-width="0.85"/>
<path d="M1175.9 916.5 L1175.9 923.9" stroke-width="0.85"/>
<path d="M1179 916.5 L1179 923.9" stroke-width="0.85"/>
<path d="M1181.2 917.6 L1190.1 917.6" stroke-width="0.85"/>
<path d="M1181.2 920.2 L1190.1 920.2" stroke-width="0.85"/>
<path d="M1181.2 922.8 L1190.1 922.8" stroke-width="0.85"/>
<path d="M1192.2 916.5 L1192.2 923.9" stroke-width="0.85"/>
<path d="M1195.3 916.5 L1195.3 923.9" stroke-width="0.85"/>
<path d="M1198.5 916.5 L1198.5 923.9" stroke-width="0.85"/>
<path d="M1200.6 917.6 L1209.5 917.6" stroke-width="0.85"/>
<path d="M1200.6 920.2 L1209.5 920.2" stroke-width="0.85"/>
<path d="M1200.6 922.8 L1209.5 922.8" stroke-width="0.85"/>
<path d="M1211.4 782 L1221.4 782" stroke-width="0.5"/>
<path d="M1211.4 783.9 L1221.4 783.9" stroke-width="0.5"/>
<path d="M1211.4 785.8 L1221.4 785.8" stroke-width="0.5"/>
<path d="M1211.4 787.7 L1221.4 787.7" stroke-width="0.5"/>
<path d="M1211.4 789.6 L1221.4 789.6" stroke-width="0.5"/>
<path d="M1211.4 791.5 L1221.4 791.5" stroke-width="0.5"/>
<path d="M1211.4 793.4 L1221.4 793.4" stroke-width="0.5"/>
<path d="M1211.4 795.3 L1221.4 795.3" stroke-width="0.5"/>
<path d="M1211.4 797.2 L1221.4 797.2" stroke-width="0.5"/>
<path d="M1211.4 799.1 L1221.4 799.1" stroke-width="0.5"/>
<path d="M1211.4 801.1 L1221.4 801.1" stroke-width="0.5"/>
<path d="M1211.4 803 L1221.4 803" stroke-width="0.5"/>
<path d="M1251.7 782 L1262.4 782" stroke-width="0.5"/>
<path d="M1251.7 783.9 L1262.4 783.9" stroke-width="0.5"/>
<path d="M1251.7 785.8 L1262.4 785.8" stroke-width="0.5"/>
<path d="M1251.7 787.7 L1262.4 787.7" stroke-width="0.5"/>
<path d="M1251.7 789.6 L1262.4 789.6" stroke-width="0.5"/>
<path d="M1251.7 791.5 L1262.4 791.5" stroke-width="0.5"/>
<path d="M1251.7 793.4 L1262.4 793.4" stroke-width="0.5"/>
<path d="M1251.7 795.3 L1262.4 795.3" stroke-width="0.5"/>
<path d="M1251.7 797.2 L1262.4 797.2" stroke-width="0.5"/>
<path d="M1251.7 799.1 L1262.4 799.1" stroke-width="0.5"/>
<path d="M1251.7 801.1 L1262.4 801.1" stroke-width="0.5"/>
<path d="M1251.7 803 L1262.4 803" stroke-width="0.5"/>
<path d="M1221.4 804 L1225.3 816.5" stroke-width="0.7"/>
<path d="M1251.7 804 L1247.3 816.5" stroke-width="0.7"/>
<text transform="translate(1273.1 769.8) scale(0.980 1)" font-size="6.8">MIN 7⁄16" THICK WOOD</text>
<text transform="translate(1273.1 777.9) scale(0.980 1)" font-size="6.8">STRUCTURAL PANEL</text>
<text transform="translate(1273.1 786) scale(0.980 1)" font-size="6.8">SHEATHING</text>
<path d="M1271.3 776.8 L1245.6 776.8 L1234.6 757.7" stroke-width="0.8"/>
<text transform="translate(1289.6 806.1) scale(0.980 1)" font-size="7.4">(2) 2x PLATES</text>
<path d="M1287 804.3 L1273.1 804.3 L1245.6 816.4" stroke-width="0.8"/>
<text transform="translate(1287.8 847.6) scale(0.980 1)" font-size="6.8">TREATED SILLPLATE</text>
<path d="M1284.8 845.7 L1260.3 845.7 L1247.4 829.2" stroke-width="0.8"/>
</g>
<g id="detF2">
<path d="M977.4 1026.3 L977.4 1124.4" stroke-width="0.8"/>
<path d="M995.1 1026.3 L995.1 1124.4" stroke-width="0.8"/>
<path d="M985 1122.6L985 1075.8Q985 1073.1 987.7 1073.1L991.3 1073.1Q994 1073.1 994 1075.8L994 1122.6Z"/>
<path d="M987.7 1099.9h.01M988.6 1102.6h.01M990.3 1077.9h.01M986.1 1113.4h.01M987.8 1085.7h.01M992.9 1096.5h.01M991.8 1096.8h.01M990.4 1081.8h.01M990.4 1114.8h.01M989.6 1108.9h.01M990.6 1077.8h.01M991.2 1102h.01M988.1 1076.3h.01M992 1096.6h.01M991 1115.3h.01M990.9 1117.2h.01M988.8 1111.7h.01M989.1 1117.9h.01M992.1 1079.4h.01M987 1084.9h.01M992.7 1094.9h.01M990.3 1088.7h.01M989.5 1092.6h.01M988.5 1101.8h.01M990.1 1116.4h.01M990.7 1117.6h.01M991.9 1120.4h.01M990.6 1082.4h.01M991.9 1119.2h.01M992.2 1101h.01" stroke-width="1.1" stroke-linecap="round"/>
<ellipse cx="989.5" cy="1123.2" rx="2.6" ry="1.6" fill="#e8ebf3"/>
<path d="M977.4 1124.8 L995.1 1124.8" stroke-width="0.7"/>
<path d="M977.4 1128 L995.1 1128" stroke-width="0.7"/>
<path d="M977.4 1131.3 L995.1 1131.3" stroke-width="0.7"/>
<path d="M977.4 1134.5 L995.1 1134.5" stroke-width="0.7"/>
<path d="M977.4 1137.9 L995.1 1137.9" stroke-width="0.7"/>
<path d="M979.2 1128 L993.6 1131.3" stroke-width="0.6"/>
<path d="M979.2 1134.5 L993.6 1131.3" stroke-width="0.6"/>
<path d="M961.6 1123 L973.5 1120.8 L974.7 1126.2 L963 1128.4Z" stroke-width="0.8"/>
<path d="M963.9 1128.9 L963.9 1240.5"/>
<path d="M975.6 1128.9 L975.6 1240.5"/>
<path d="M963.9 1128.9 L975.6 1128.9" stroke-width="0.7"/>
<path d="M965.2 1130.5 L974.4 1130.5 L974.4 1135.8 L965.2 1135.8Z" stroke-width="0.5"/>
<path d="M963.9 1137.5 L975.6 1137.5" stroke-width="0.7"/>
<path d="M965.2 1139.1 L974.4 1139.1 L974.4 1144.3 L965.2 1144.3Z" stroke-width="0.5"/>
<path d="M963.9 1146.1 L975.6 1146.1" stroke-width="0.7"/>
<path d="M965.2 1147.7 L974.4 1147.7 L974.4 1152.9 L965.2 1152.9Z" stroke-width="0.5"/>
<path d="M963.9 1154.7 L975.6 1154.7" stroke-width="0.7"/>
<path d="M965.2 1156.3 L974.4 1156.3 L974.4 1161.5 L965.2 1161.5Z" stroke-width="0.5"/>
<path d="M963.9 1163.3 L975.6 1163.3" stroke-width="0.7"/>
<path d="M965.2 1164.9 L974.4 1164.9 L974.4 1170.1 L965.2 1170.1Z" stroke-width="0.5"/>
<path d="M963.9 1171.9 L975.6 1171.9" stroke-width="0.7"/>
<path d="M965.2 1173.5 L974.4 1173.5 L974.4 1178.7 L965.2 1178.7Z" stroke-width="0.5"/>
<path d="M963.9 1180.4 L975.6 1180.4" stroke-width="0.7"/>
<path d="M965.2 1182.1 L974.4 1182.1 L974.4 1187.3 L965.2 1187.3Z" stroke-width="0.5"/>
<path d="M963.9 1189 L975.6 1189" stroke-width="0.7"/>
<path d="M965.2 1190.7 L974.4 1190.7 L974.4 1195.9 L965.2 1195.9Z" stroke-width="0.5"/>
<path d="M963.9 1197.6 L975.6 1197.6" stroke-width="0.7"/>
<path d="M965.2 1199.2 L974.4 1199.2 L974.4 1204.5 L965.2 1204.5Z" stroke-width="0.5"/>
<path d="M963.9 1206.2 L975.6 1206.2" stroke-width="0.7"/>
<path d="M965.2 1207.8 L974.4 1207.8 L974.4 1213 L965.2 1213Z" stroke-width="0.5"/>
<path d="M963.9 1214.8 L975.6 1214.8" stroke-width="0.7"/>
<path d="M965.2 1216.4 L974.4 1216.4 L974.4 1221.6 L965.2 1221.6Z" stroke-width="0.5"/>
<path d="M963.9 1223.4 L975.6 1223.4" stroke-width="0.7"/>
<path d="M965.2 1225 L974.4 1225 L974.4 1230.2 L965.2 1230.2Z" stroke-width="0.5"/>
<path d="M963.9 1232 L975.6 1232" stroke-width="0.7"/>
<path d="M965.2 1233.6 L974.4 1233.6 L974.4 1238.8 L965.2 1238.8Z" stroke-width="0.5"/>
<path d="M963.9 1240.6 L975.6 1240.6" stroke-width="0.7"/>
<path d="M975.6 1138.5 L1003 1138.5 L1003 1240.5 L975.6 1240.5Z"/>
<path d="M975.6 1138.5 L981 1138.5 L981 1240.5 L975.6 1240.5Z" fill="url(#stip)" stroke-width="0.5"/>
<path d="M998.1 1138.5 L1003 1138.5 L1003 1240.5 L998.1 1240.5Z" fill="url(#stip)" stroke-width="0.5"/>
<path d="M975.6 1162.4 L1003 1162.4" stroke-width="0.8"/>
<path d="M975.6 1163.8 L1003 1163.8" stroke-width="0.8"/>
<path d="M975.6 1188.5 L1003 1188.5" stroke-width="0.8"/>
<path d="M975.6 1190 L1003 1190" stroke-width="0.8"/>
<path d="M975.6 1214.6 L1003 1214.6" stroke-width="0.8"/>
<path d="M975.6 1216.1 L1003 1216.1" stroke-width="0.8"/>
<path d="M975.6 1140.3 L1003 1140.3" stroke-width="0.6"/>
<path d="M988.6 1123.5 L988.6 1258.5"/>
<path d="M990.4 1123.5 L990.4 1258.5"/>
<circle cx="989.5" cy="1259.1" r="0.9" fill="#e8ebf3" stroke-width="0.8"/>
<circle cx="992.2" cy="1156.8" r="0.7" fill="#e8ebf3" stroke-width="0.8"/>
<path d="M926.1 1215.3 L963.9 1215.3"/>
<path d="M926.5 1216.9 L935.2 1216.9" stroke-width="0.85"/>
<path d="M926.5 1219.6 L935.2 1219.6" stroke-width="0.85"/>
<path d="M926.5 1222.3 L935.2 1222.3" stroke-width="0.85"/>
<path d="M937.3 1215.7 L937.3 1223.5" stroke-width="0.85"/>
<path d="M940.3 1215.7 L940.3 1223.5" stroke-width="0.85"/>
<path d="M943.3 1215.7 L943.3 1223.5" stroke-width="0.85"/>
<path d="M945.4 1216.9 L954.1 1216.9" stroke-width="0.85"/>
<path d="M945.4 1219.6 L954.1 1219.6" stroke-width="0.85"/>
<path d="M945.4 1222.3 L954.1 1222.3" stroke-width="0.85"/>
<path d="M956.2 1215.7 L956.2 1223.5" stroke-width="0.85"/>
<path d="M959.2 1215.7 L959.2 1223.5" stroke-width="0.85"/>
<path d="M962.2 1215.7 L962.2 1223.5" stroke-width="0.85"/>
<path d="M927.8 1224.2 L927.8 1232.1" stroke-width="0.85"/>
<path d="M930.8 1224.2 L930.8 1232.1" stroke-width="0.85"/>
<path d="M933.9 1224.2 L933.9 1232.1" stroke-width="0.85"/>
<path d="M935.9 1225.4 L944.6 1225.4" stroke-width="0.85"/>
<path d="M935.9 1228.2 L944.6 1228.2" stroke-width="0.85"/>
<path d="M935.9 1230.9 L944.6 1230.9" stroke-width="0.85"/>
<path d="M946.7 1224.2 L946.7 1232.1" stroke-width="0.85"/>
<path d="M949.7 1224.2 L949.7 1232.1" stroke-width="0.85"/>
<path d="M952.8 1224.2 L952.8 1232.1" stroke-width="0.85"/>
<path d="M954.8 1225.4 L963.5 1225.4" stroke-width="0.85"/>
<path d="M954.8 1228.2 L963.5 1228.2" stroke-width="0.85"/>
<path d="M954.8 1230.9 L963.5 1230.9" stroke-width="0.85"/>
<path d="M1003.5 1214.4 L1071.9 1214.4"/>
<path d="M1003.5 1223.1 L1071.9 1223.1"/>
<path d="M1003.5 1227.4 L1071.9 1227.4" stroke-width="0.8"/>
<path d="M1035.7 1218.1h.01M1014.4 1221.4h.01M1005.7 1219h.01M1064.3 1216.1h.01M1041.7 1219.7h.01M1008 1218.1h.01M1051.5 1218.6h.01M1053 1216.6h.01M1021 1216.3h.01" stroke-width="1.2" stroke-linecap="round"/>
<path d="M954.4 1241.8 L1013.1 1241.8 L1013.1 1273.8 L954.4 1273.8Z" stroke-width="1.0"/>
<path d="M987.7 1255.7h.01M988.1 1249.3h.01M1001.2 1267.3h.01M992.3 1247.9h.01M984.9 1252.8h.01M969.8 1271h.01M1011.4 1244.5h.01M1003.8 1260.8h.01M977.1 1251.5h.01M993.5 1256.6h.01M994.1 1262.5h.01M963.2 1265.6h.01M1010.6 1271.5h.01M990 1244.5h.01M956 1247.1h.01M1008.3 1252.1h.01M976.2 1269.4h.01M973.4 1259.3h.01M980.1 1245.1h.01M988.4 1267.9h.01M964.5 1249.8h.01M978.9 1244.3h.01M983.5 1267.1h.01M992.5 1258.8h.01M1003.5 1247.6h.01M987.5 1254.2h.01M989.4 1246.5h.01M999.1 1246.1h.01" stroke-width="1.7" stroke-linecap="round"/>
<text transform="translate(857 1038.9) scale(0.900 1)" font-size="6.7">3,500 LB HOLDOWN</text>
<text transform="translate(857 1047) scale(0.900 1)" font-size="6.7">(SIMPSON HTT4 HOLDOWN W/</text>
<text transform="translate(857 1055.1) scale(0.900 1)" font-size="6.7">18-16dx2-1/2" NAILS</text>
<text transform="translate(857 1063.2) scale(0.900 1)" font-size="6.7">OR EQUAL.)</text>
<path d="M937.8 1060 L952.2 1060 L981.9 1104.6" stroke-width="0.8"/>
<text transform="translate(867.5 1107) scale(0.900 1)" font-size="5.9">OPTIONAL BRICK</text>
<text transform="translate(867.5 1113.9) scale(0.900 1)" font-size="5.9">(OR OTHER)</text>
<path d="M919.8 1104.6 L928.8 1104.6 L963 1139.7" stroke-width="0.8"/>
<text transform="translate(820.4 1152) scale(0.900 1)" font-size="7.8">⅝" THREADED ROD WITH ⅜"</text>
<text transform="translate(820.4 1160.8) scale(0.900 1)" font-size="7.8">x 1½" x 1½" PLATE WASHERS</text>
<text transform="translate(820.4 1169.6) scale(0.900 1)" font-size="7.8">AND NUTS OR SIMPSON "SET</text>
<text transform="translate(820.4 1178.4) scale(0.900 1)" font-size="7.8">OR SET-XP" EPOXY.  7" MIN.</text>
<text transform="translate(820.4 1187.2) scale(0.900 1)" font-size="7.8">EMBEDMENT INTO FTG.</text>
<path d="M928.8 1148.7 L942.3 1148.7 L979.2 1186.5" stroke-width="0.8"/>
<text transform="translate(1025.9 1062) scale(1.013 1)" font-size="5.9">2X WALL FRAMING</text>
<path d="M1024.2 1060 L1015.2 1060 L996.3 1071.3" stroke-width="0.8"/>
<text transform="translate(1027.1 1086) scale(0.991 1)" font-size="6.4">(2) 2x PLATES</text>
<path d="M1025.1 1083.9 L1019.7 1083.9 L993.6 1126.2" stroke-width="0.8"/>
<text transform="translate(1027.1 1102.5) scale(1.048 1)" font-size="6.1">PLATE (TRT)</text>
<path d="M1025.1 1100.1 L1018.8 1100.1 L995.1 1135.2" stroke-width="0.8"/>
<text transform="translate(1062.5 1131) scale(0.900 1)" font-size="7.8">8" BOND BEAM</text>
<text transform="translate(1062.5 1140) scale(0.900 1)" font-size="7.8">WITH (1) #4 BAR.</text>
<path d="M1060.2 1136.7 L1034.1 1136.7 L993.6 1155.9" stroke-width="0.8"/>
<text transform="translate(1062.5 1166.4) scale(0.900 1)" font-size="7.8">8" (MIN.) CMU</text>
<path d="M1060.2 1164 L1044 1164 L1003.5 1182.9" stroke-width="0.8"/>
<text transform="translate(1082 1236.6) scale(0.900 1)" font-size="7.8">MIN 10" DEEP CONCRETE</text>
<text transform="translate(1082 1245.6) scale(0.900 1)" font-size="7.8">FOOTING (SEE PLANS FOR</text>
<text transform="translate(1082 1254.6) scale(0.900 1)" font-size="7.8">WIDTH)</text>
<path d="M1080 1235.1 L1054.8 1235.1 L1014.3 1250.1" stroke-width="0.8"/>
<text transform="translate(1088.6 1269.6) scale(0.900 1)" font-size="7.8">3" CONC. COVER AT</text>
<text transform="translate(1088.6 1278.6) scale(0.900 1)" font-size="7.8">BOTTOM AND 6" MIN CONC.</text>
<text transform="translate(1088.6 1287.6) scale(0.900 1)" font-size="7.8">COVER ON SIDES OF</text>
<text transform="translate(1088.6 1296.6) scale(0.900 1)" font-size="7.8">ANCHOR. (TYP)</text>
<path d="M1086.3 1274.7 L1056.6 1274.7 L991.8 1259.8" stroke-width="0.8"/>
<path d="M950 1293.9 L1057.1 1293.9 L1057.1 1315.5 L950 1315.5Z"/>
<text transform="translate(965 1308.6) scale(0.974 1)" font-size="8.8">FOOTING SECTION</text>
<circle cx="946.1" cy="1344.6" r="11.4" stroke-width="1.0"/>
<text transform="translate(946.1 1348.8) scale(1.100 1)" font-size="11.9" text-anchor="middle" class="mid">F</text>
<text transform="translate(967.4 1341.9) scale(1.049 1)" font-size="11.7" class="mid">APA PORTAL FRAME W/ HOLD-DOWNS</text>
<path d="M967.4 1344.6 L1195.4 1344.6"/>
<text transform="translate(967.4 1352.4) scale(1.125 1)" font-size="7">DETAIL AND APPLICATION BASED ON APA TT-100E WITH USE OF TABLE 1</text>
<text transform="translate(967.4 1361.4) scale(1.098 1)" font-size="7">FOR APA PORTAL FRAME WITH HOLD-DOWN CAPACITIES.</text>
<path d="M1260.2 1150.3L1261.1 1068.4Q1261.1 1064.2 1264.8 1063.8L1281 1062.7Q1284.7 1062.7 1285 1066.8L1285.6 1145.7"/>
<path d="M1260.2 1150.3 L1258.3 1153.7 L1260.2 1210.1 L1272.9 1223.4 L1298.9 1213.2 L1296.6 1205.5 L1285.9 1145.7"/>
<path d="M1262.3 1154.2 L1269.8 1205.2 L1272.9 1223.4" stroke-width="0.8"/>
<path d="M1283.1 1150.3 L1279.2 1200.9 L1269.8 1205.2" stroke-width="0.8"/>
<path d="M1279.2 1200.9 L1293.3 1208.3 L1296.6 1205.5" stroke-width="0.8"/>
<path d="M1272.9 1217.8 L1293.3 1210.4" stroke-width="0.7"/>
<path d="M1258.3 1153.7 L1262.3 1154.2" stroke-width="0.7"/>
<path d="M1285.6 1145.7 L1283.1 1150.3" stroke-width="0.7"/>
<circle cx="1277.5" cy="1209.3" r="4"/>
<circle cx="1277.5" cy="1209.3" r="2.1" stroke-width="0.7"/>
<path d="M1265.2 1071.4h.01M1276.4 1069.1h.01M1269.8 1078h.01M1280.8 1076.5h.01M1265.2 1086.7h.01M1276.2 1085.2h.01M1269.8 1093.9h.01M1280.8 1092.1h.01M1265.2 1102.5h.01M1276.2 1100.5h.01M1269.8 1109.3h.01M1280.5 1107.4h.01M1265.2 1117.9h.01M1276.2 1115.6h.01M1269.8 1125.5h.01M1280.5 1122.8h.01M1265.2 1134.7h.01M1275.9 1131.5h.01M1269.8 1141.9h.01M1280.2 1139.9h.01M1265.2 1150.3h.01M1275.9 1148h.01M1269.8 1158h.01M1280.5 1154.9h.01M1274.1 1165.4h.01M1274.1 1175.2h.01" stroke-width="2.6" stroke-linecap="round"/>
<path d="M1236.1 1241.5 L1318.1 1241.5 L1318.1 1257.6 L1236.1 1257.6Z"/>
<text transform="translate(1246.1 1253.8) scale(0.922 1)" font-size="9.2">SIMPSON HTT4</text>
</g>
<g id="detG">
<path d="M303 1186.6 L342.4 1186.6" stroke-width="0.8"/>
<path d="M303 1186.6 L303 1290"/>
<path d="M342.4 1186.6 L342.4 1290"/>
<path d="M309.6 1186.6 L309.6 1290" stroke-width="0.8"/>
<path d="M336 1186.6 L336 1290" stroke-width="0.8"/>
<path d="M316.4 1238 L316.4 1290" stroke-width="0.8"/>
<path d="M322.4 1238 L322.4 1290" stroke-width="0.8"/>
<path d="M329.6 1238 L329.6 1290" stroke-width="0.8"/>
<path d="M309.6 1238 L336 1238" stroke-width="0.8"/>
<path d="M309.6 1186.6 L318.4 1238" stroke-width="0.7"/>
<path d="M318.4 1186.6 L309.6 1238" stroke-width="0.7"/>
<path d="M318.4 1186.6 L318.4 1238" stroke-width="0.7"/>
<path d="M318.4 1186.6 L327.2 1238" stroke-width="0.7"/>
<path d="M327.2 1186.6 L318.4 1238" stroke-width="0.7"/>
<path d="M327.2 1186.6 L327.2 1238" stroke-width="0.7"/>
<path d="M327.2 1186.6 L336 1238" stroke-width="0.7"/>
<path d="M336 1186.6 L327.2 1238" stroke-width="0.7"/>
<path d="M336 1186.6 L336 1238" stroke-width="0.7"/>
<text transform="translate(374 1205.6) scale(0.950 1)" font-size="7.8">LVL MAIN GARAGE BEAM</text>
<text transform="translate(374 1212.6) scale(0.965 1)" font-size="7.8">AS SPEC'D</text>
<path d="M371 1203 L337 1203" stroke-width="0.8"/>
<path d="M337 1203L342 1203.9L342 1202.1Z" fill="#e8ebf3" stroke-width="0.4"/>
<text transform="translate(374 1225.6) scale(0.944 1)" font-size="7.8">BEAM SHALL BEAR ON END</text>
<text transform="translate(374 1232.6) scale(0.835 1)" font-size="7.8">OF STUDS</text>
<path d="M371 1223 L360 1223 L337 1238" stroke-width="0.8"/>
<text transform="translate(374 1263) scale(0.885 1)" font-size="7.8">NUMBER OF STUDS SPEC'D</text>
<text transform="translate(374 1272.4) scale(0.924 1)" font-size="7.8">(SEE PLANS) INCLUDES ALL</text>
<text transform="translate(374 1281) scale(0.854 1)" font-size="7.8">STUDS IN COLUMN</text>
<path d="M371 1260.4 L344 1260.4" stroke-width="0.8"/>
<path d="M344 1260.4L349 1261.3L349 1259.5Z" fill="#e8ebf3" stroke-width="0.4"/>
<circle cx="250" cy="1323" r="9.4" stroke-width="1.0"/>
<text transform="translate(250 1326.6) scale(1.250 1)" font-size="11.2" text-anchor="middle" class="mid">G</text>
<text transform="translate(265 1327) scale(0.958 1)" font-size="18.2" class="big">TYP. GARAGE BEAM BEARING</text>
<path d="M263.6 1329.2 L518 1329.2"/>
<path d="M263.6 1330.8 L518 1330.8" stroke-width="0.6"/>
<text transform="translate(506 1336.4) scale(0.965 1)" font-size="6.4">NTS</text>
</g>
<g id="detHD">
<path d="M1596 651.7 L1613.3 647.3" stroke-width="0.8"/>
<path d="M1676.5 649.1 L1713.9 639.5 L1716.7 641.3" stroke-width="0.8"/>
<path d="M1596 651.7 L1622.7 664 L1714.6 640.7"/>
<path d="M1596 651.7 L1598.7 656.5 L1597.1 659.7 L1600.8 666.7 L1599.7 670.9 L1602.9 675.7 L1607.7 676.8 L1610.9 681.1 L1617.3 681.6 L1622.7 685.7 L1630.1 686.9 L1635.5 691 L1642.9 693.5 L1649.3 689.6 L1656.8 688.5 L1664.3 683.7 L1670.7 682.7 L1676 680 L1684.5 679.5 L1692 676.3 L1698.4 674.7 L1702.7 667.7 L1706.4 665.1 L1708 659.7 L1712.8 657.6 L1714.6 652.8 L1717.1 650.7 L1715.5 645.3 L1716.7 641.3"/>
<path d="M1622.7 664 L1620.7 670.9 L1623.7 673.1 L1626.9 679.5 L1635.5 691" stroke-width="0.8"/>
<path d="M1628 673.4h.01M1642.8 675.3h.01M1671.4 658.1h.01M1630.4 663.5h.01M1695 671.2h.01M1672.9 660.8h.01M1659.9 679.7h.01M1676.5 658h.01M1686.3 674.9h.01M1698.3 671.1h.01M1645.6 681.6h.01M1651.1 685.9h.01M1699.8 659.1h.01M1616.6 662.9h.01M1671.5 665.6h.01M1658.1 668.3h.01M1640.6 674.7h.01M1676.5 661.2h.01M1681.3 662.8h.01M1694.5 674.4h.01M1647.3 660.8h.01M1634.2 680.6h.01M1699.1 657.4h.01M1670.2 657.4h.01M1681.8 666.6h.01M1668.5 657h.01M1623.4 669.1h.01M1669.7 661h.01M1636.5 686.7h.01M1701.8 668.1h.01M1652.9 672.6h.01M1673.4 675.1h.01M1664 675.8h.01M1649.6 679h.01M1627.9 665.6h.01M1662.8 656.4h.01M1647.8 674.6h.01M1603.6 675.7h.01M1672.1 657.9h.01" stroke-width="1.3" stroke-linecap="round"/>
<path d="M1615.2 642.1 L1644 633.6" stroke-width="0.8"/>
<path d="M1633.3 650.7 L1665.9 642.1" stroke-width="0.8"/>
<path d="M1633.3 657.6 L1662.1 650.5" stroke-width="0.8"/>
<path d="M1613.1 643 L1615.2 642.1 L1620.3 644.3 L1626.9 642.7 L1633.3 650.7 L1633.3 657.6 L1626.9 654.9 L1619.7 652.8 L1613.9 650.7 L1613.1 643" stroke-width="0.8"/>
<path d="M1613.9 643.8 L1619.7 645.8" stroke-width="0.5"/>
<path d="M1620.5 645.8 L1626.7 644.7" stroke-width="0.5"/>
<path d="M1627.5 647.5 L1633.1 649.8" stroke-width="0.5"/>
<path d="M1613.9 645.1 L1619.7 647" stroke-width="0.5"/>
<path d="M1620.5 647 L1626.7 646" stroke-width="0.5"/>
<path d="M1627.5 648.7 L1633.1 651.1" stroke-width="0.5"/>
<path d="M1613.9 646.4 L1619.7 648.3" stroke-width="0.5"/>
<path d="M1620.5 648.3 L1626.7 647.3" stroke-width="0.5"/>
<path d="M1627.5 650 L1633.1 652.4" stroke-width="0.5"/>
<path d="M1613.9 647.7 L1619.7 649.6" stroke-width="0.5"/>
<path d="M1620.5 649.6 L1626.7 648.5" stroke-width="0.5"/>
<path d="M1627.5 651.3 L1633.1 653.7" stroke-width="0.5"/>
<path d="M1613.9 649 L1619.7 650.9" stroke-width="0.5"/>
<path d="M1620.5 650.9 L1626.7 649.8" stroke-width="0.5"/>
<path d="M1627.5 652.6 L1633.1 654.9" stroke-width="0.5"/>
<path d="M1613.9 650.2 L1619.7 652.2" stroke-width="0.5"/>
<path d="M1620.5 652.2 L1626.7 651.1" stroke-width="0.5"/>
<path d="M1627.5 653.9 L1633.1 656.2" stroke-width="0.5"/>
<path d="M1613.9 651.5 L1619.7 653.4" stroke-width="0.5"/>
<path d="M1620.5 653.4 L1626.7 652.4" stroke-width="0.5"/>
<path d="M1627.5 655.1 L1633.1 657.5" stroke-width="0.5"/>
<path d="M1613.9 652.8 L1619.7 654.7" stroke-width="0.5"/>
<path d="M1620.5 654.7 L1626.7 653.7" stroke-width="0.5"/>
<path d="M1627.5 656.4 L1633.1 658.8" stroke-width="0.5"/>
<path d="M1613.9 654.1 L1619.7 656" stroke-width="0.5"/>
<path d="M1620.5 656 L1626.7 654.9" stroke-width="0.5"/>
<path d="M1627.5 657.7 L1633.1 660.1" stroke-width="0.5"/>
<path d="M1675.8 628.3 L1685.1 624.5 L1705.9 633.6 L1676 639.8" stroke-width="0.8"/>
<path d="M1705.9 633.6 L1706.9 639.5 L1676.5 645.3" stroke-width="0.8"/>
<path d="M1685.1 624.5 L1689.9 627.2 L1690.9 626.1 L1698.4 629.3 L1700 628.3 L1705.9 633.6" stroke-width="0.6"/>
<path d="M1644 633.6 L1644 575.1 L1665.9 581.3 L1665.9 652.3" stroke-width="1.0"/>
<path d="M1665.9 581.3 L1675.5 577.6 L1675.5 638.9"/>
<path d="M1644 575.1 L1653.6 573.9 L1654.7 576 L1656.8 573.7 L1658.4 577.1 L1661.1 573.3 L1664.3 576 L1665.3 573.7 L1675.5 577.6" stroke-width="0.8"/>
<path d="M1653.6 573.9 L1655.7 579.7 L1657.9 576 L1661.1 578.7 L1665.9 581.3" stroke-width="0.6"/>
<path d="M1644 633.6 L1665.9 642.1" stroke-width="0.8"/>
<path d="M1666.6 651.7L1666.6 608Q1666.6 605.3 1669.4 605.3L1672.2 605.3Q1674.9 605.3 1674.9 608L1674.9 651.7"/>
<circle cx="1669.6" cy="609.3" r="0.7" fill="#e8ebf3" stroke-width="0.8"/>
<circle cx="1673.3" cy="613.5" r="0.7" fill="#e8ebf3" stroke-width="0.8"/>
<circle cx="1668.3" cy="618.5" r="0.7" fill="#e8ebf3" stroke-width="0.8"/>
<circle cx="1673.9" cy="623.5" r="0.7" fill="#e8ebf3" stroke-width="0.8"/>
<path d="M1667.5 633.6 L1674.1 634.7" stroke-width="0.6"/>
<path d="M1667.5 635.9 L1674.1 637" stroke-width="0.6"/>
<path d="M1667.5 638.3 L1674.1 639.4" stroke-width="0.6"/>
<path d="M1667.5 640.6 L1674.1 641.7" stroke-width="0.6"/>
<path d="M1667.5 643 L1674.1 644.1" stroke-width="0.6"/>
<path d="M1667.5 645.3 L1674.1 646.4" stroke-width="0.6"/>
<path d="M1667.5 647.7 L1674.1 648.7" stroke-width="0.6"/>
<path d="M1667.5 650 L1674.1 651.1" stroke-width="0.6"/>
<path d="M1670.7 633.6 L1670.7 651.7" stroke-width="0.6"/>
<ellipse cx="1665.3" cy="650.7" rx="5" ry="2.4"/>
<text transform="translate(1638.1 706.1) scale(1.074 1)" font-size="6.7">SIMPSON SSP</text>
<path d="M1638.1 707.7 L1687.7 707.7" stroke-width="0.8"/>
<path d="M1483.5 724.6 L1582.2 724.6 L1582.2 891.6 L1483.5 891.6Z"/>
<path d="M1503.3 724.6 L1503.3 891.6" stroke-width="0.8"/>
<path d="M1518 724.6 L1518 836.8" stroke-width="0.8"/>
<path d="M1503.3 836.8 L1582.2 836.8" stroke-width="0.8"/>
<path d="M1503.3 829.9 L1518 829.9 L1518 836.8 L1503.3 836.8Z" stroke-width="0.7"/>
<path d="M1513.9 828.3 L1513.9 863.4 L1519.6 863.4" stroke-width="1.6"/>
<circle cx="1513.9" cy="828.6" r="1.6" fill="#e8ebf3" stroke-width="0.8"/>
<path d="M1552.3 875.5l1.6 3.2l-3.2 0z" stroke-width="0.5"/>
<path d="M1507.6 861.7l1.6 3.2l-3.2 0z" stroke-width="0.5"/>
<path d="M1540.7 850.7l1.6 3.2l-3.2 0z" stroke-width="0.5"/>
<path d="M1526.5 884.3l1.6 3.2l-3.2 0z" stroke-width="0.5"/>
<path d="M1551.9 844.7l1.6 3.2l-3.2 0z" stroke-width="0.5"/>
<path d="M1565.3 887.2h.01M1561.1 886.2h.01M1576.4 872.5h.01M1573.2 845.6h.01M1546.4 868.7h.01M1506.4 850.8h.01M1563 847.9h.01M1565.4 846.9h.01M1505.6 883.6h.01" stroke-width="1.2" stroke-linecap="round"/>
<text transform="translate(1497.6 906.7) scale(1.031 1)" font-size="6.7">SECTION</text>
<path d="M1497.6 909.2 L1528.3 909.2" stroke-width="0.8"/>
<path d="M1740.5 706.1 L1850.2 706.1 L1850.2 880.7 L1740.5 880.7Z"/>
<path d="M1790.7 712.4 L1790.7 810.1" stroke-width="0.8"/>
<path d="M1797.6 712.4 L1797.6 810.1" stroke-width="0.8"/>
<path d="M1804.8 712.4 L1804.8 810.1" stroke-width="0.8"/>
<path d="M1791.6 808.6 L1804.1 808.6 L1804.1 836.8 L1791.6 836.8Z" stroke-width="0.8"/>
<path d="M1792.9 814.9 L1802.9 814.9" stroke-width="0.5"/>
<path d="M1792.9 820.2 L1802.9 820.2" stroke-width="0.5"/>
<path d="M1792.9 825.8 L1802.9 825.8" stroke-width="0.5"/>
<path d="M1794.1 827.4 L1794.1 836.8" stroke-width="0.6"/>
<path d="M1796.6 827.4 L1796.6 836.8" stroke-width="0.6"/>
<path d="M1799.1 827.4 L1799.1 836.8" stroke-width="0.6"/>
<path d="M1801.6 827.4 L1801.6 836.8" stroke-width="0.6"/>
<path d="M1740.5 829.9 L1850.2 829.9" stroke-width="0.8"/>
<path d="M1740.5 836.8 L1850.2 836.8" stroke-width="0.8"/>
<path d="M1774.4 827.4 L1774.4 864.4 L1780 864.4" stroke-width="1.6"/>
<circle cx="1774.4" cy="827.7" r="1.6" fill="#e8ebf3" stroke-width="0.8"/>
<path d="M1820.4 827.4 L1820.4 864.4 L1826.1 864.4" stroke-width="1.6"/>
<circle cx="1820.4" cy="827.7" r="1.6" fill="#e8ebf3" stroke-width="0.8"/>
<path d="M1826.6 870.5l1.6 3.2l-3.2 0z" stroke-width="0.5"/>
<path d="M1792.2 868.1l1.6 3.2l-3.2 0z" stroke-width="0.5"/>
<path d="M1819.9 854.5l1.6 3.2l-3.2 0z" stroke-width="0.5"/>
<path d="M1827.9 848.7l1.6 3.2l-3.2 0z" stroke-width="0.5"/>
<path d="M1752 869.7l1.6 3.2l-3.2 0z" stroke-width="0.5"/>
<path d="M1809.8 849.7l1.6 3.2l-3.2 0z" stroke-width="0.5"/>
<path d="M1793.8 850.2h.01M1742.1 865.9h.01M1781.9 870.1h.01M1771.2 871.3h.01M1799.5 866.6h.01M1762.7 861.6h.01M1827.7 866.8h.01M1832.1 853.1h.01M1827.9 857.4h.01M1752.1 847.7h.01" stroke-width="1.2" stroke-linecap="round"/>
<path d="M1771.2 888.5 L1771.2 907.9" stroke-width="0.8"/>
<path d="M1823.6 888.5 L1823.6 907.9" stroke-width="0.8"/>
<path d="M1767.2 905.1 L1776.6 905.1" stroke-width="0.8"/>
<path d="M1818.9 905.1 L1827.3 905.1" stroke-width="0.8"/>
<path d="M1768.6 907.7L1773.8 902.5" stroke-width="0.9"/>
<path d="M1821 907.7L1826.2 902.5" stroke-width="0.9"/>
<text transform="translate(1797.6 897.9) scale(0.830 1)" font-size="7" text-anchor="middle">12"</text>
<text transform="translate(1797.6 908.9) scale(0.830 1)" font-size="7.8" text-anchor="middle">C/L OF</text>
<text transform="translate(1797.6 918.9) scale(0.830 1)" font-size="7.8" text-anchor="middle">COLUMN</text>
<text transform="translate(1764 934.9) scale(1.129 1)" font-size="6.7">ELEVATION</text>
<path d="M1764 937.4 L1805.4 937.4" stroke-width="0.8"/>
<text transform="translate(1599.5 752.2) scale(1.080 1)" font-size="7">HD LOCATION (2) STUDS</text>
<path d="M1594.8 750.6 L1519.6 750.6" stroke-width="0.8"/>
<path d="M1519.6 750.6L1524.6 751.5L1524.6 749.7Z" fill="#e8ebf3" stroke-width="0.4"/>
<path d="M1693.5 750.6 L1789.1 750.6" stroke-width="0.8"/>
<path d="M1789.1 750.6L1784.1 749.7L1784.1 751.5Z" fill="#e8ebf3" stroke-width="0.4"/>
<text transform="translate(1597 814.2) scale(1.047 1)" font-size="7">SIMPSON SSP ON EACH STUD</text>
<path d="M1593.2 811.7 L1535.2 811.7 L1507 829" stroke-width="0.8"/>
<path d="M1507 829L1511.8 827.1L1510.8 825.6Z" fill="#e8ebf3" stroke-width="0.4"/>
<path d="M1710.7 811.1 L1743.7 811.1 L1790.7 825.8" stroke-width="0.8"/>
<path d="M1790.7 825.8L1786.2 823.5L1785.6 825.2Z" fill="#e8ebf3" stroke-width="0.4"/>
<text transform="translate(1599.5 868.8) scale(0.930 1)" font-size="7.4">LOCATE ½" DIAMETER ANCHOR</text>
<text transform="translate(1599.5 877.6) scale(0.930 1)" font-size="7.4">BOLT (OR ½" THREADED ROD</text>
<text transform="translate(1599.5 886.4) scale(0.930 1)" font-size="7.4">EMBEDDED 5" INTO SOLID</text>
<text transform="translate(1599.5 895.3) scale(0.930 1)" font-size="7.4">MASONRY OR CONCRETE WITH</text>
<text transform="translate(1599.5 904.1) scale(0.930 1)" font-size="7.4">SIMPSON SET-XP EPOXY (OR</text>
<text transform="translate(1599.5 913) scale(0.930 1)" font-size="7.4">EQUAL) WITHIN 12" OF CENTERLINE</text>
<text transform="translate(1599.5 921.8) scale(0.930 1)" font-size="7.4">OF STUD COLUMN.</text>
<path d="M1597.9 886.9 L1519.6 841.5" stroke-width="0.8"/>
<path d="M1519.6 841.5L1523.4 844.8L1524.3 843.2Z" fill="#e8ebf3" stroke-width="0.4"/>
<path d="M1721.7 887.9 L1730.2 887.9 L1786 846.2" stroke-width="0.8"/>
<path d="M1786 846.2L1781.4 848.5L1782.5 849.9Z" fill="#e8ebf3" stroke-width="0.4"/>
<circle cx="1545.3" cy="956.5" r="13.2" stroke-width="1.0"/>
<text transform="translate(1545.3 960.6) scale(1.050 1)" font-size="11.2" text-anchor="middle" class="mid">HD</text>
<text transform="translate(1565 952.8) scale(0.968 1)" font-size="11.9" class="mid">'HD' HOLD-DOWN DETAIL</text>
<path d="M1565 955.6 L1703.9 955.6"/>
<text transform="translate(1565 965.3) scale(1.086 1)" font-size="8.4">(ON CONCRETE OR SOLID MASONRY)</text>
<text transform="translate(1565 983.2) scale(1.096 1)" font-size="7">NOTE: ALTERNATE HD HOLD-DOWN DEVICES OR SYSTEMS MAY BE</text>
<text transform="translate(1565 991.9) scale(1.121 1)" font-size="7">USED TO MEET THE CODE REQUIRED 800 LB CAPACITY IN LIEU</text>
<text transform="translate(1565 1000.7) scale(1.100 1)" font-size="7">OF THE ABOVE DETAIL.</text>
</g>
</g>
</svg>
</body></html>
